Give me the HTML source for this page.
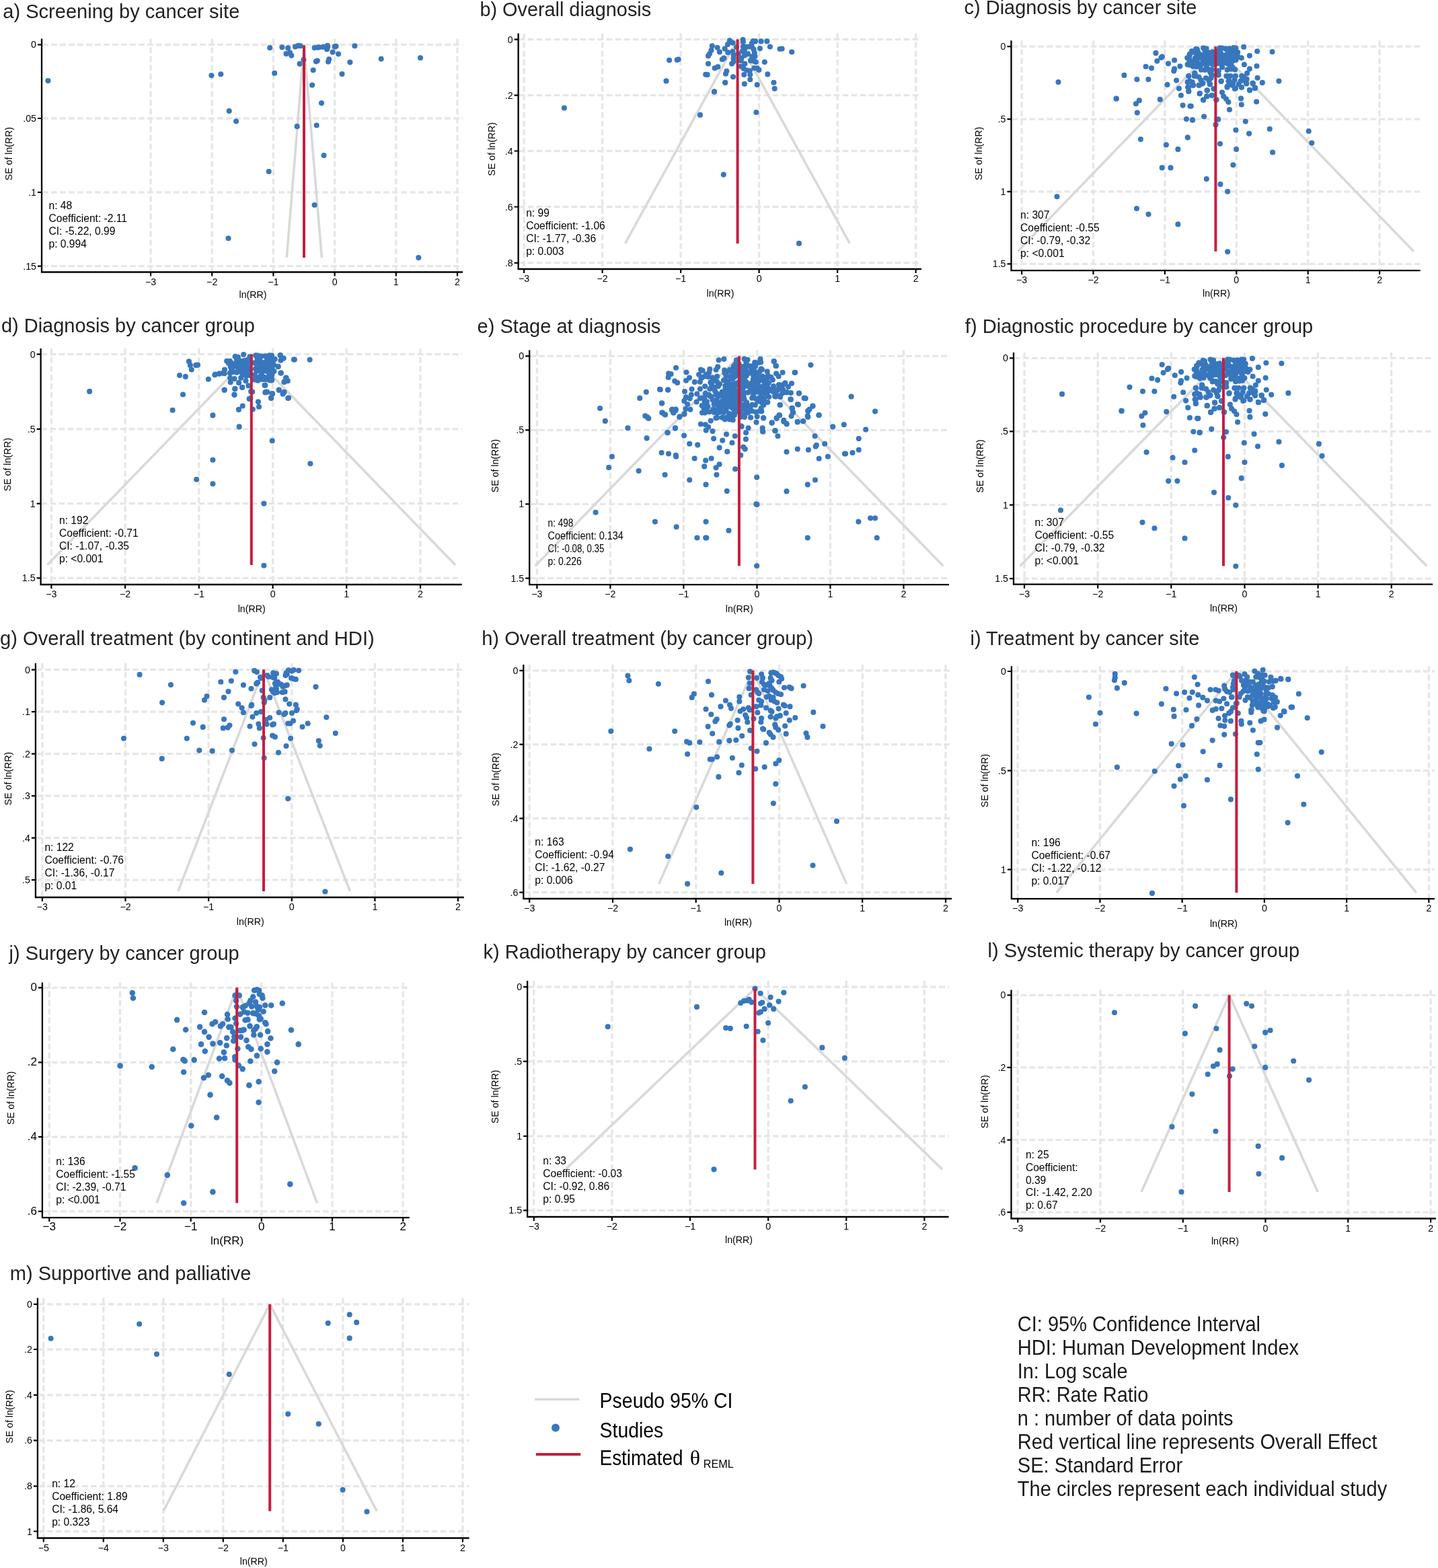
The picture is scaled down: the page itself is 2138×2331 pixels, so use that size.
<!DOCTYPE html>
<html><head><meta charset="utf-8"><style>
html,body{margin:0;padding:0;background:#fff;}
svg{display:block;}
text{font-family:'Liberation Sans', Arial, Helvetica, sans-serif;fill:#000;}
.gr{stroke:#e6e6e6;stroke-width:3.3;stroke-dasharray:8.8 4.2;fill:none;}
.fn{stroke:#d9d9d9;stroke-width:3.6;fill:none;stroke-linejoin:round;}
.rd{stroke:#c41f3f;stroke-width:4;}
.ax{stroke:#000;stroke-width:2.3;fill:none;}
.tk{stroke:#000;stroke-width:2.2;fill:none;}
circle,ellipse{fill:#3877bd;}
.yl{font-size:14.2px;text-anchor:end;}
.xl{font-size:14.2px;text-anchor:middle;}
.at{font-size:14.2px;}
.ti{font-size:28.6px;fill:#222;}
.st{font-size:15.6px;}
.lg{font-size:32px;}
.nt{font-size:30.5px;fill:#1a1a1a;}
</style></head><body>
<svg width="2138" height="2331" viewBox="0 0 2138 2331">
<line x1="63" y1="66.3" x2="688" y2="66.3" class="gr"/>
<line x1="63" y1="176" x2="688" y2="176" class="gr"/>
<line x1="63" y1="285.9" x2="688" y2="285.9" class="gr"/>
<line x1="63" y1="395.6" x2="688" y2="395.6" class="gr"/>
<line x1="224" y1="57.5" x2="224" y2="403.5" class="gr"/>
<line x1="315.2" y1="57.5" x2="315.2" y2="403.5" class="gr"/>
<line x1="406.4" y1="57.5" x2="406.4" y2="403.5" class="gr"/>
<line x1="497.6" y1="57.5" x2="497.6" y2="403.5" class="gr"/>
<line x1="588.8" y1="57.5" x2="588.8" y2="403.5" class="gr"/>
<line x1="680" y1="57.5" x2="680" y2="403.5" class="gr"/>
<polyline points="426.3,383 452,67.5 478.4,383" class="fn"/>
<circle cx="71.4" cy="120" r="4.05"/><circle cx="314.4" cy="112.3" r="4.05"/><circle cx="328.3" cy="110.3" r="4.05"/><circle cx="340.7" cy="165.1" r="4.05"/><circle cx="351.1" cy="180.2" r="4.05"/><circle cx="339.5" cy="354.2" r="4.05"/><circle cx="401.2" cy="71" r="4.05"/><circle cx="419.4" cy="70.2" r="4.05"/><circle cx="428.2" cy="71.4" r="4.05"/><circle cx="425.5" cy="79.9" r="4.05"/><circle cx="431" cy="78.3" r="4.05"/><circle cx="433.3" cy="82.6" r="4.05"/><circle cx="439" cy="69.4" r="4.05"/><circle cx="443.7" cy="67.9" r="4.05"/><circle cx="446.8" cy="68.3" r="4.05"/><circle cx="445.6" cy="94.9" r="4.05"/><circle cx="451.4" cy="88.7" r="4.05"/><circle cx="408.2" cy="108.8" r="4.05"/><circle cx="399.7" cy="255" r="4.05"/><circle cx="441.7" cy="187.9" r="4.05"/><circle cx="467.6" cy="71" r="4.05"/><circle cx="472.6" cy="70.6" r="4.05"/><circle cx="474.5" cy="70.2" r="4.05"/><circle cx="480.3" cy="69.8" r="4.05"/><circle cx="486.9" cy="67.9" r="4.05"/><circle cx="486.1" cy="73.3" r="4.05"/><circle cx="487.3" cy="69.4" r="4.05"/><circle cx="497.7" cy="69.4" r="4.05"/><circle cx="499.6" cy="68.7" r="4.05"/><circle cx="494.6" cy="77.5" r="4.05"/><circle cx="503.1" cy="80.2" r="4.05"/><circle cx="489.2" cy="88" r="4.05"/><circle cx="488" cy="91.8" r="4.05"/><circle cx="469.9" cy="91.4" r="4.05"/><circle cx="471.8" cy="90.3" r="4.05"/><circle cx="465.7" cy="104.2" r="4.05"/><circle cx="464.1" cy="126.5" r="4.05"/><circle cx="478" cy="153.2" r="4.05"/><circle cx="470.7" cy="186.3" r="4.05"/><circle cx="481.5" cy="231.1" r="4.05"/><circle cx="467.6" cy="304.8" r="4.05"/><circle cx="508.5" cy="110" r="4.05"/><circle cx="520.4" cy="92.6" r="4.05"/><circle cx="527.4" cy="68.3" r="4.05"/><circle cx="566.7" cy="87.6" r="4.05"/><circle cx="625" cy="86" r="4.05"/><circle cx="622.3" cy="383.1" r="4.05"/>
<line x1="452" y1="67.5" x2="452" y2="383" class="rd"/>
<path d="M62,57.5V404.5H688" class="ax"/>
<path d="M56,66.3H62M56,176H62M56,285.9H62M56,395.6H62M224,404.5V410.5M315.2,404.5V410.5M406.4,404.5V410.5M497.6,404.5V410.5M588.8,404.5V410.5M680,404.5V410.5" class="tk"/>
<text x="54" y="71.3" class="yl">0</text>
<text x="54" y="181" class="yl">.05</text>
<text x="54" y="290.9" class="yl">.1</text>
<text x="54" y="400.6" class="yl">.15</text>
<text x="224" y="423.5" class="xl">−3</text>
<text x="315.2" y="423.5" class="xl">−2</text>
<text x="406.4" y="423.5" class="xl">−1</text>
<text x="497.6" y="423.5" class="xl">0</text>
<text x="588.8" y="423.5" class="xl">1</text>
<text x="680" y="423.5" class="xl">2</text>
<text x="376" y="443" class="at" text-anchor="middle">ln(RR)</text>
<text transform="translate(17.5,228.5) rotate(-90)" class="at" text-anchor="middle">SE of ln(RR)</text>
<text x="4.3" y="27.3" class="ti" textLength="352" lengthAdjust="spacingAndGlyphs">a) Screening by cancer site</text>
<text x="72.5" y="310.8" class="st">n: 48</text>
<text x="72.5" y="329.8" class="st">Coefficient: -2.11</text>
<text x="72.5" y="348.8" class="st">CI: -5.22, 0.99</text>
<text x="72.5" y="367.8" class="st">p: 0.994</text>
<line x1="771.6" y1="58.6" x2="1370" y2="58.6" class="gr"/>
<line x1="771.6" y1="141.6" x2="1370" y2="141.6" class="gr"/>
<line x1="771.6" y1="224.5" x2="1370" y2="224.5" class="gr"/>
<line x1="771.6" y1="307.5" x2="1370" y2="307.5" class="gr"/>
<line x1="771.6" y1="390.8" x2="1370" y2="390.8" class="gr"/>
<line x1="779.1" y1="49.4" x2="779.1" y2="399" class="gr"/>
<line x1="895.6" y1="49.4" x2="895.6" y2="399" class="gr"/>
<line x1="1012.1" y1="49.4" x2="1012.1" y2="399" class="gr"/>
<line x1="1128.6" y1="49.4" x2="1128.6" y2="399" class="gr"/>
<line x1="1245.1" y1="49.4" x2="1245.1" y2="399" class="gr"/>
<line x1="1361.6" y1="49.4" x2="1361.6" y2="399" class="gr"/>
<polyline points="929.5,361.9 1096.6,58.6 1263.3,361.9" class="fn"/>
<circle cx="838.9" cy="160.5" r="4.05"/><circle cx="990.5" cy="120.4" r="4.05"/><circle cx="995.1" cy="89.5" r="4.05"/><circle cx="1006.7" cy="89.1" r="4.05"/><circle cx="1008.6" cy="88.3" r="4.05"/><circle cx="1041" cy="170.9" r="4.05"/><circle cx="1061.9" cy="136.2" r="4.05"/><circle cx="1075.8" cy="259.6" r="4.05"/><circle cx="1078.1" cy="122.7" r="4.05"/><circle cx="1124.4" cy="167" r="4.05"/><circle cx="1188" cy="361.9" r="4.05"/><circle cx="1177.2" cy="77.2" r="4.05"/><circle cx="1162.6" cy="72.5" r="4.05"/><circle cx="1084.8" cy="60.4" r="4.05"/><circle cx="1086.8" cy="63" r="4.05"/><circle cx="1089.4" cy="63.6" r="4.05"/><circle cx="1104.6" cy="59.1" r="4.05"/><circle cx="1104.9" cy="62.3" r="4.05"/><circle cx="1119.9" cy="61" r="4.05"/><circle cx="1123.1" cy="61.4" r="4.05"/><circle cx="1117.9" cy="64.3" r="4.05"/><circle cx="1131.6" cy="61.4" r="4.05"/><circle cx="1140.3" cy="61.4" r="4.05"/><circle cx="1144.9" cy="69.5" r="4.05"/><circle cx="1129.9" cy="72.1" r="4.05"/><circle cx="1058.8" cy="68.2" r="4.05"/><circle cx="1057.5" cy="74.7" r="4.05"/><circle cx="1053" cy="83.1" r="4.05"/><circle cx="1066.6" cy="70.8" r="4.05"/><circle cx="1069.9" cy="77.3" r="4.05"/><circle cx="1077.7" cy="72.4" r="4.05"/><circle cx="1082.2" cy="77.9" r="4.05"/><circle cx="1089.4" cy="76.6" r="4.05"/><circle cx="1090.6" cy="81.2" r="4.05"/><circle cx="1090.6" cy="86.4" r="4.05"/><circle cx="1073.8" cy="88.3" r="4.05"/><circle cx="1076.4" cy="86.4" r="4.05"/><circle cx="1088.1" cy="94.8" r="4.05"/><circle cx="1090.6" cy="91.6" r="4.05"/><circle cx="1053" cy="94.8" r="4.05"/><circle cx="1062.7" cy="101.3" r="4.05"/><circle cx="1067.3" cy="99.4" r="4.05"/><circle cx="1051.7" cy="111" r="4.05"/><circle cx="1049.2" cy="110.7" r="4.05"/><circle cx="1080.3" cy="105.8" r="4.05"/><circle cx="1079" cy="109.7" r="4.05"/><circle cx="1090" cy="114.3" r="4.05"/><circle cx="1078.3" cy="122.7" r="4.05"/><circle cx="1062.1" cy="136.4" r="4.05"/><circle cx="1104.9" cy="69.5" r="4.05"/><circle cx="1103.6" cy="76" r="4.05"/><circle cx="1106.9" cy="74.7" r="4.05"/><circle cx="1108.8" cy="69.5" r="4.05"/><circle cx="1112.7" cy="69.5" r="4.05"/><circle cx="1117.9" cy="69.5" r="4.05"/><circle cx="1120.5" cy="73.4" r="4.05"/><circle cx="1121.8" cy="78.6" r="4.05"/><circle cx="1122.5" cy="83.8" r="4.05"/><circle cx="1106.9" cy="82.5" r="4.05"/><circle cx="1102.3" cy="86.4" r="4.05"/><circle cx="1101.7" cy="90.3" r="4.05"/><circle cx="1116" cy="90.3" r="4.05"/><circle cx="1121.2" cy="90.9" r="4.05"/><circle cx="1123.8" cy="92.2" r="4.05"/><circle cx="1107.5" cy="94.8" r="4.05"/><circle cx="1136.8" cy="92.2" r="4.05"/><circle cx="1101.7" cy="98.7" r="4.05"/><circle cx="1105.6" cy="101.9" r="4.05"/><circle cx="1110.1" cy="104.5" r="4.05"/><circle cx="1114.7" cy="105.2" r="4.05"/><circle cx="1121.2" cy="101.3" r="4.05"/><circle cx="1125.7" cy="101.3" r="4.05"/><circle cx="1128.3" cy="103.9" r="4.05"/><circle cx="1106.2" cy="111" r="4.05"/><circle cx="1115.3" cy="111" r="4.05"/><circle cx="1115.3" cy="118.2" r="4.05"/><circle cx="1141.3" cy="110.4" r="4.05"/><circle cx="1106.9" cy="124.7" r="4.05"/><circle cx="1125.7" cy="126" r="4.05"/><circle cx="1150.4" cy="122.7" r="4.05"/><circle cx="1151.7" cy="131.8" r="4.05"/><circle cx="1159.5" cy="72.7" r="4.05"/><circle cx="1055" cy="80" r="4.05"/><circle cx="1082" cy="66" r="4.05"/><circle cx="1095" cy="70" r="4.05"/><circle cx="1098" cy="80" r="4.05"/><circle cx="1112" cy="80" r="4.05"/><circle cx="1118" cy="84" r="4.05"/>
<line x1="1096.6" y1="58.6" x2="1096.6" y2="361.9" class="rd"/>
<path d="M770.6,49.4V400H1370" class="ax"/>
<path d="M764.6,58.6H770.6M764.6,141.6H770.6M764.6,224.5H770.6M764.6,307.5H770.6M764.6,390.8H770.6M779.1,400V406M895.6,400V406M1012.1,400V406M1128.6,400V406M1245.1,400V406M1361.6,400V406" class="tk"/>
<text x="762.6" y="63.6" class="yl">0</text>
<text x="762.6" y="146.6" class="yl">.2</text>
<text x="762.6" y="229.5" class="yl">.4</text>
<text x="762.6" y="312.5" class="yl">.6</text>
<text x="762.6" y="395.8" class="yl">.8</text>
<text x="779.1" y="419" class="xl">−3</text>
<text x="895.6" y="419" class="xl">−2</text>
<text x="1012.1" y="419" class="xl">−1</text>
<text x="1128.6" y="419" class="xl">0</text>
<text x="1245.1" y="419" class="xl">1</text>
<text x="1361.6" y="419" class="xl">2</text>
<text x="1071" y="441" class="at" text-anchor="middle">ln(RR)</text>
<text transform="translate(735.5,221.7) rotate(-90)" class="at" text-anchor="middle">SE of ln(RR)</text>
<text x="713.5" y="23.9" class="ti" textLength="254.6" lengthAdjust="spacingAndGlyphs">b) Overall diagnosis</text>
<text x="782.2" y="322" class="st">n: 99</text>
<text x="782.2" y="341" class="st">Coefficient: -1.06</text>
<text x="782.2" y="360" class="st">CI: -1.77, -0.36</text>
<text x="782.2" y="379" class="st">p: 0.003</text>
<line x1="1504.5" y1="69.2" x2="2111.6" y2="69.2" class="gr"/>
<line x1="1504.5" y1="177.2" x2="2111.6" y2="177.2" class="gr"/>
<line x1="1504.5" y1="284.8" x2="2111.6" y2="284.8" class="gr"/>
<line x1="1504.5" y1="392.4" x2="2111.6" y2="392.4" class="gr"/>
<line x1="1519.1" y1="60.2" x2="1519.1" y2="401.1" class="gr"/>
<line x1="1625.5" y1="60.2" x2="1625.5" y2="401.1" class="gr"/>
<line x1="1731.9" y1="60.2" x2="1731.9" y2="401.1" class="gr"/>
<line x1="1838.3" y1="60.2" x2="1838.3" y2="401.1" class="gr"/>
<line x1="1944.7" y1="60.2" x2="1944.7" y2="401.1" class="gr"/>
<line x1="2051.1" y1="60.2" x2="2051.1" y2="401.1" class="gr"/>
<polyline points="1513.2,373.8 1807.4,69.2 2101.9,373.8" class="fn"/>
<circle cx="1718.4" cy="78.9" r="4.05"/><circle cx="1727.9" cy="84.2" r="4.05"/><circle cx="1726.4" cy="85.8" r="4.05"/><circle cx="1720.3" cy="90.7" r="4.05"/><circle cx="1746.1" cy="89.5" r="4.05"/><circle cx="1737" cy="94.5" r="4.05"/><circle cx="1754.4" cy="98.6" r="4.05"/><circle cx="1746.1" cy="102.4" r="4.05"/><circle cx="1745.3" cy="105.5" r="4.05"/><circle cx="1703.6" cy="99" r="4.05"/><circle cx="1712" cy="101.3" r="4.05"/><circle cx="1671.4" cy="111.9" r="4.05"/><circle cx="1690.4" cy="118" r="4.05"/><circle cx="1707.4" cy="118" r="4.05"/><circle cx="1749.1" cy="119.5" r="4.05"/><circle cx="1735.5" cy="125.9" r="4.05"/><circle cx="1752.9" cy="131.6" r="4.05"/><circle cx="1755.9" cy="141.8" r="4.05"/><circle cx="1767.3" cy="135.8" r="4.05"/><circle cx="1766.1" cy="129.7" r="4.05"/><circle cx="1765.8" cy="122.1" r="4.05"/><circle cx="1767.3" cy="113" r="4.05"/><circle cx="1772.6" cy="122.1" r="4.05"/><circle cx="1774.1" cy="126.7" r="4.05"/><circle cx="1776.4" cy="109.2" r="4.05"/><circle cx="1775.6" cy="113" r="4.05"/><circle cx="1768" cy="96.4" r="4.05"/><circle cx="1773.3" cy="98.6" r="4.05"/><circle cx="1768.8" cy="82" r="4.05"/><circle cx="1773.3" cy="77.4" r="4.05"/><circle cx="1768.8" cy="88" r="4.05"/><circle cx="1771.8" cy="91.8" r="4.05"/><circle cx="1659.7" cy="146.7" r="4.05"/><circle cx="1693.8" cy="149.4" r="4.05"/><circle cx="1688.9" cy="154.3" r="4.05"/><circle cx="1724.8" cy="147.9" r="4.05"/><circle cx="1758.6" cy="156.6" r="4.05"/><circle cx="1769.5" cy="157.7" r="4.05"/><circle cx="1690.8" cy="167.6" r="4.05"/><circle cx="1763.9" cy="177" r="4.05"/><circle cx="1773" cy="178.6" r="4.05"/><circle cx="1780" cy="73.6" r="4.05"/><circle cx="1849.2" cy="69.8" r="4.05"/><circle cx="1869.2" cy="76.3" r="4.05"/><circle cx="1891.6" cy="77" r="4.05"/><circle cx="1857.9" cy="82.7" r="4.05"/><circle cx="1845.8" cy="86.1" r="4.05"/><circle cx="1849.9" cy="96" r="4.05"/><circle cx="1868.5" cy="98.3" r="4.05"/><circle cx="1857.9" cy="102.4" r="4.05"/><circle cx="1854.1" cy="108.9" r="4.05"/><circle cx="1869.6" cy="115.7" r="4.05"/><circle cx="1901.4" cy="120.6" r="4.05"/><circle cx="1876.8" cy="122.9" r="4.05"/><circle cx="1862.8" cy="124.4" r="4.05"/><circle cx="1866.2" cy="130.5" r="4.05"/><circle cx="1857.9" cy="133.9" r="4.05"/><circle cx="1853.3" cy="124.4" r="4.05"/><circle cx="1846.5" cy="113" r="4.05"/><circle cx="1849.5" cy="117.6" r="4.05"/><circle cx="1845.8" cy="129.7" r="4.05"/><circle cx="1835.9" cy="132" r="4.05"/><circle cx="1836.7" cy="113" r="4.05"/><circle cx="1824.5" cy="113" r="4.05"/><circle cx="1827.6" cy="120.6" r="4.05"/><circle cx="1824.5" cy="129.7" r="4.05"/><circle cx="1832.9" cy="124.4" r="4.05"/><circle cx="1815.5" cy="121" r="4.05"/><circle cx="1811.7" cy="105.5" r="4.05"/><circle cx="1811.7" cy="111.5" r="4.05"/><circle cx="1817" cy="137.3" r="4.05"/><circle cx="1819.2" cy="143.3" r="4.05"/><circle cx="1823" cy="147.1" r="4.05"/><circle cx="1826.4" cy="151.7" r="4.05"/><circle cx="1845" cy="146.4" r="4.05"/><circle cx="1845.8" cy="155.5" r="4.05"/><circle cx="1868.1" cy="151.3" r="4.05"/><circle cx="1828" cy="163" r="4.05"/><circle cx="1808.6" cy="148.3" r="4.05"/><circle cx="1801.4" cy="141.8" r="4.05"/><circle cx="1794.2" cy="143.3" r="4.05"/><circle cx="1788.9" cy="148.6" r="4.05"/><circle cx="1783.6" cy="139.2" r="4.05"/><circle cx="1795" cy="134.6" r="4.05"/><circle cx="1804.8" cy="132.3" r="4.05"/><circle cx="1770.8" cy="157.7" r="4.05"/><circle cx="1790.1" cy="173.3" r="4.05"/><circle cx="1773" cy="178.2" r="4.05"/><circle cx="1811.3" cy="177.4" r="4.05"/><circle cx="1807.5" cy="185.4" r="4.05"/><circle cx="1851.8" cy="180.5" r="4.05"/><circle cx="1837.4" cy="193.3" r="4.05"/><circle cx="1857.1" cy="198.6" r="4.05"/><circle cx="1887.8" cy="191.8" r="4.05"/><circle cx="1782.9" cy="126.7" r="4.05"/><circle cx="1787.4" cy="124.4" r="4.05"/><circle cx="1773.8" cy="126.7" r="4.05"/><circle cx="1798.8" cy="125.2" r="4.05"/><circle cx="1573.5" cy="122" r="4.05"/><circle cx="1571.5" cy="292.2" r="4.05"/><circle cx="1659.7" cy="146.5" r="4.05"/><circle cx="1695.9" cy="207.1" r="4.05"/><circle cx="1690" cy="310" r="4.05"/><circle cx="1707.5" cy="318.6" r="4.05"/><circle cx="1733.9" cy="215.2" r="4.05"/><circle cx="1727.7" cy="249.4" r="4.05"/><circle cx="1740.5" cy="249.4" r="4.05"/><circle cx="1751.4" cy="221.9" r="4.05"/><circle cx="1751.4" cy="333.4" r="4.05"/><circle cx="1765.8" cy="204.4" r="4.05"/><circle cx="1793.8" cy="266.1" r="4.05"/><circle cx="1814" cy="213.7" r="4.05"/><circle cx="1814.4" cy="273.9" r="4.05"/><circle cx="1825.2" cy="284.8" r="4.05"/><circle cx="1825.2" cy="374.2" r="4.05"/><circle cx="1833.4" cy="245.2" r="4.05"/><circle cx="1838.1" cy="221.9" r="4.05"/><circle cx="1892.1" cy="226.5" r="4.05"/><circle cx="1945.7" cy="195" r="4.05"/><circle cx="1950.3" cy="212.5" r="4.05"/><circle cx="1776.4" cy="108.5" r="4.05"/><circle cx="1777.9" cy="113" r="4.05"/><circle cx="1767.3" cy="113" r="4.05"/><circle cx="1765.8" cy="122.1" r="4.05"/><circle cx="1768.8" cy="120.6" r="4.05"/><circle cx="1773.3" cy="125.2" r="4.05"/><circle cx="1767.3" cy="129.7" r="4.05"/><circle cx="1767.3" cy="135.8" r="4.05"/><circle cx="1782.4" cy="114.5" r="4.05"/><circle cx="1785.5" cy="119.1" r="4.05"/><circle cx="1788.5" cy="123.6" r="4.05"/><circle cx="1782.4" cy="126.7" r="4.05"/><circle cx="1793" cy="116.1" r="4.05"/><circle cx="1797.6" cy="120.6" r="4.05"/><circle cx="1799.1" cy="125.2" r="4.05"/><circle cx="1791.5" cy="103.9" r="4.05"/><circle cx="1799.1" cy="107" r="4.05"/><circle cx="1802.1" cy="111.5" r="4.05"/><circle cx="1800.6" cy="116.1" r="4.05"/><circle cx="1811.2" cy="105.5" r="4.05"/><circle cx="1811.2" cy="110" r="4.05"/><circle cx="1815.8" cy="120.6" r="4.05"/><circle cx="1804.4" cy="132" r="4.05"/><circle cx="1794.5" cy="134.2" r="4.05"/><circle cx="1783.9" cy="138.8" r="4.05"/><circle cx="1802.1" cy="141.8" r="4.05"/><circle cx="1794.5" cy="143.3" r="4.05"/><circle cx="1789.2" cy="148.6" r="4.05"/><circle cx="1808.2" cy="148.6" r="4.05"/><circle cx="1823.3" cy="113" r="4.05"/><circle cx="1829.4" cy="113" r="4.05"/><circle cx="1837" cy="113" r="4.05"/><circle cx="1846.1" cy="113" r="4.05"/><circle cx="1826.4" cy="120.6" r="4.05"/><circle cx="1835.5" cy="119.1" r="4.05"/><circle cx="1844.5" cy="120.6" r="4.05"/><circle cx="1852.1" cy="122.1" r="4.05"/><circle cx="1862.7" cy="123.6" r="4.05"/><circle cx="1824.8" cy="128.2" r="4.05"/><circle cx="1832.4" cy="126.7" r="4.05"/><circle cx="1837" cy="131.2" r="4.05"/><circle cx="1846.1" cy="129.7" r="4.05"/><circle cx="1858.2" cy="134.2" r="4.05"/><circle cx="1865.8" cy="131.2" r="4.05"/><circle cx="1853.6" cy="117.6" r="4.05"/><circle cx="1849.1" cy="114.5" r="4.05"/><circle cx="1827.9" cy="125.2" r="4.05"/><circle cx="1841.5" cy="125.2" r="4.05"/><circle cx="1778.2" cy="72.9" r="4.05"/><circle cx="1789.1" cy="71.4" r="4.05"/><circle cx="1793.5" cy="72.3" r="4.05"/><circle cx="1772" cy="76.1" r="4.05"/><circle cx="1776.7" cy="78.1" r="4.05"/><circle cx="1781.4" cy="78.1" r="4.05"/><circle cx="1791.5" cy="76.2" r="4.05"/><circle cx="1796.7" cy="77.8" r="4.05"/><circle cx="1802.6" cy="77.3" r="4.05"/><circle cx="1768.7" cy="80.5" r="4.05"/><circle cx="1779.4" cy="81.3" r="4.05"/><circle cx="1784.4" cy="81.4" r="4.05"/><circle cx="1790.1" cy="82" r="4.05"/><circle cx="1794.8" cy="81.6" r="4.05"/><circle cx="1800.4" cy="81" r="4.05"/><circle cx="1804.1" cy="81.3" r="4.05"/><circle cx="1765.2" cy="86" r="4.05"/><circle cx="1777" cy="86.2" r="4.05"/><circle cx="1781.2" cy="86.5" r="4.05"/><circle cx="1787" cy="85.9" r="4.05"/><circle cx="1793.1" cy="86" r="4.05"/><circle cx="1796.1" cy="86.5" r="4.05"/><circle cx="1803.6" cy="86.8" r="4.05"/><circle cx="1768.3" cy="90.9" r="4.05"/><circle cx="1778.2" cy="89.6" r="4.05"/><circle cx="1788.5" cy="89.9" r="4.05"/><circle cx="1795.5" cy="89.5" r="4.05"/><circle cx="1799.9" cy="91.4" r="4.05"/><circle cx="1805.9" cy="90" r="4.05"/><circle cx="1765.7" cy="95.9" r="4.05"/><circle cx="1770.4" cy="94.2" r="4.05"/><circle cx="1775.8" cy="95" r="4.05"/><circle cx="1781" cy="93.8" r="4.05"/><circle cx="1786.5" cy="95.2" r="4.05"/><circle cx="1792.5" cy="95.1" r="4.05"/><circle cx="1797.6" cy="93.9" r="4.05"/><circle cx="1803.1" cy="95.9" r="4.05"/><circle cx="1778.7" cy="99.3" r="4.05"/><circle cx="1784.5" cy="98.5" r="4.05"/><circle cx="1793.8" cy="99.1" r="4.05"/><circle cx="1785.8" cy="103.7" r="4.05"/><circle cx="1797.5" cy="103.2" r="4.05"/><circle cx="1802" cy="103.7" r="4.05"/><circle cx="1800.6" cy="109.7" r="4.05"/><circle cx="1813.7" cy="71.2" r="4.05"/><circle cx="1816.8" cy="71.5" r="4.05"/><circle cx="1822.3" cy="72.4" r="4.05"/><circle cx="1828.1" cy="72.1" r="4.05"/><circle cx="1834.2" cy="71.1" r="4.05"/><circle cx="1837.4" cy="71.5" r="4.05"/><circle cx="1811" cy="76.3" r="4.05"/><circle cx="1814.6" cy="77.8" r="4.05"/><circle cx="1825.3" cy="77" r="4.05"/><circle cx="1831.3" cy="76.6" r="4.05"/><circle cx="1837" cy="76.8" r="4.05"/><circle cx="1840.2" cy="77.7" r="4.05"/><circle cx="1811.9" cy="82.2" r="4.05"/><circle cx="1818.3" cy="82" r="4.05"/><circle cx="1822.7" cy="82" r="4.05"/><circle cx="1828.8" cy="80.1" r="4.05"/><circle cx="1833.9" cy="82.2" r="4.05"/><circle cx="1838.6" cy="80.4" r="4.05"/><circle cx="1810.1" cy="85.6" r="4.05"/><circle cx="1820.4" cy="86.1" r="4.05"/><circle cx="1825" cy="84.4" r="4.05"/><circle cx="1830.2" cy="85.4" r="4.05"/><circle cx="1836.8" cy="86.6" r="4.05"/><circle cx="1841" cy="84.8" r="4.05"/><circle cx="1813.7" cy="89.4" r="4.05"/><circle cx="1817.3" cy="88.9" r="4.05"/><circle cx="1822.6" cy="89.3" r="4.05"/><circle cx="1827.6" cy="89.9" r="4.05"/><circle cx="1833.2" cy="90.3" r="4.05"/><circle cx="1837.6" cy="89.1" r="4.05"/><circle cx="1810.1" cy="94.3" r="4.05"/><circle cx="1815.2" cy="95.1" r="4.05"/><circle cx="1819.4" cy="93.5" r="4.05"/><circle cx="1825.3" cy="94.8" r="4.05"/><circle cx="1830.4" cy="95.7" r="4.05"/><circle cx="1817.1" cy="100" r="4.05"/><circle cx="1828.8" cy="100.3" r="4.05"/><circle cx="1832.6" cy="100.3" r="4.05"/><circle cx="1824.6" cy="103.9" r="4.05"/><circle cx="1830.7" cy="102.8" r="4.05"/><circle cx="1836.2" cy="103.5" r="4.05"/>
<line x1="1807.4" y1="69.2" x2="1807.4" y2="373.8" class="rd"/>
<path d="M1503.5,60.2V402.1H2111.6" class="ax"/>
<path d="M1497.5,69.2H1503.5M1497.5,177.2H1503.5M1497.5,284.8H1503.5M1497.5,392.4H1503.5M1519.1,402.1V408.1M1625.5,402.1V408.1M1731.9,402.1V408.1M1838.3,402.1V408.1M1944.7,402.1V408.1M2051.1,402.1V408.1" class="tk"/>
<text x="1495.5" y="74.2" class="yl">0</text>
<text x="1495.5" y="182.2" class="yl">.5</text>
<text x="1495.5" y="289.8" class="yl">1</text>
<text x="1495.5" y="397.4" class="yl">1.5</text>
<text x="1519.1" y="421.1" class="xl">−3</text>
<text x="1625.5" y="421.1" class="xl">−2</text>
<text x="1731.9" y="421.1" class="xl">−1</text>
<text x="1838.3" y="421.1" class="xl">0</text>
<text x="1944.7" y="421.1" class="xl">1</text>
<text x="2051.1" y="421.1" class="xl">2</text>
<text x="1808.5" y="441" class="at" text-anchor="middle">ln(RR)</text>
<text transform="translate(1460,228.3) rotate(-90)" class="at" text-anchor="middle">SE of ln(RR)</text>
<text x="1433.6" y="21.4" class="ti" textLength="345.8" lengthAdjust="spacingAndGlyphs">c) Diagnosis by cancer site</text>
<text x="1517.1" y="325" class="st">n: 307</text>
<text x="1517.1" y="344" class="st">Coefficient: -0.55</text>
<text x="1517.1" y="363" class="st">CI: -0.79, -0.32</text>
<text x="1517.1" y="382" class="st">p: <0.001</text>
<line x1="61.6" y1="526.7" x2="686.7" y2="526.7" class="gr"/>
<line x1="61.6" y1="637.9" x2="686.7" y2="637.9" class="gr"/>
<line x1="61.6" y1="748.6" x2="686.7" y2="748.6" class="gr"/>
<line x1="61.6" y1="859.3" x2="686.7" y2="859.3" class="gr"/>
<line x1="76.4" y1="517.9" x2="76.4" y2="868" class="gr"/>
<line x1="186.1" y1="517.9" x2="186.1" y2="868" class="gr"/>
<line x1="295.8" y1="517.9" x2="295.8" y2="868" class="gr"/>
<line x1="405.6" y1="517.9" x2="405.6" y2="868" class="gr"/>
<line x1="515.3" y1="517.9" x2="515.3" y2="868" class="gr"/>
<line x1="625" y1="517.9" x2="625" y2="868" class="gr"/>
<polyline points="70.2,840 373.8,526.7 677.1,840" class="fn"/>
<circle cx="133.1" cy="581.9" r="4.05"/><circle cx="256.6" cy="609.7" r="4.05"/><circle cx="272" cy="586.5" r="4.05"/><circle cx="267" cy="558" r="4.05"/><circle cx="275.8" cy="559.9" r="4.05"/><circle cx="280.9" cy="537.2" r="4.05"/><circle cx="282.8" cy="542.9" r="4.05"/><circle cx="284.7" cy="549.5" r="4.05"/><circle cx="291.3" cy="542.9" r="4.05"/><circle cx="294" cy="542.6" r="4.05"/><circle cx="309.8" cy="563.8" r="4.05"/><circle cx="316.4" cy="617.4" r="4.05"/><circle cx="316.4" cy="683.8" r="4.05"/><circle cx="292.1" cy="712.7" r="4.05"/><circle cx="316.4" cy="719.3" r="4.05"/><circle cx="355.7" cy="634.4" r="4.05"/><circle cx="354.9" cy="608.9" r="4.05"/><circle cx="360.7" cy="603.5" r="4.05"/><circle cx="375.8" cy="608.5" r="4.05"/><circle cx="385" cy="604.7" r="4.05"/><circle cx="383.9" cy="597.3" r="4.05"/><circle cx="372.3" cy="592.3" r="4.05"/><circle cx="404.7" cy="655.2" r="4.05"/><circle cx="392.4" cy="748.6" r="4.05"/><circle cx="392.4" cy="840.8" r="4.05"/><circle cx="461.4" cy="689.2" r="4.05"/><circle cx="460.6" cy="534.8" r="4.05"/><circle cx="437.9" cy="534.5" r="4.05"/><circle cx="416.7" cy="528.3" r="4.05"/><circle cx="421.7" cy="532.5" r="4.05"/><circle cx="413.6" cy="544.9" r="4.05"/><circle cx="417.8" cy="554.5" r="4.05"/><circle cx="425.5" cy="561.5" r="4.05"/><circle cx="427.1" cy="566.1" r="4.05"/><circle cx="422.5" cy="568" r="4.05"/><circle cx="414.7" cy="579.6" r="4.05"/><circle cx="422.5" cy="582.7" r="4.05"/><circle cx="420.5" cy="585.8" r="4.05"/><circle cx="428.2" cy="592" r="4.05"/><circle cx="405.1" cy="585.4" r="4.05"/><circle cx="403.2" cy="591.9" r="4.05"/><circle cx="394.3" cy="583.5" r="4.05"/><circle cx="397.4" cy="582.7" r="4.05"/><circle cx="393.5" cy="572.7" r="4.05"/><circle cx="403.2" cy="565.3" r="4.05"/><circle cx="333.7" cy="579.6" r="4.05"/><circle cx="348.4" cy="586.5" r="4.05"/><circle cx="349.2" cy="578.1" r="4.05"/><circle cx="360" cy="575.7" r="4.05"/><circle cx="319.4" cy="557.2" r="4.05"/><circle cx="326" cy="555.7" r="4.05"/><circle cx="331.8" cy="554.5" r="4.05"/><circle cx="320" cy="556.6" r="4.05"/><circle cx="326.5" cy="555.3" r="4.05"/><circle cx="333.6" cy="555.3" r="4.05"/><circle cx="342.1" cy="561.8" r="4.05"/><circle cx="342.7" cy="568.2" r="4.05"/><circle cx="348.6" cy="563.1" r="4.05"/><circle cx="355.1" cy="568.9" r="4.05"/><circle cx="358.3" cy="561.8" r="4.05"/><circle cx="360.3" cy="576" r="4.05"/><circle cx="365.5" cy="566.3" r="4.05"/><circle cx="369.4" cy="573.4" r="4.05"/><circle cx="373.2" cy="581.9" r="4.05"/><circle cx="375.2" cy="582.5" r="4.05"/><circle cx="333.6" cy="579.9" r="4.05"/><circle cx="349.5" cy="578" r="4.05"/><circle cx="348.6" cy="587.1" r="4.05"/><circle cx="370.6" cy="592.9" r="4.05"/><circle cx="394.4" cy="572.8" r="4.05"/><circle cx="395.3" cy="582.5" r="4.05"/><circle cx="404.4" cy="585.1" r="4.05"/><circle cx="403.1" cy="591.6" r="4.05"/><circle cx="414.8" cy="579.9" r="4.05"/><circle cx="421.9" cy="583.8" r="4.05"/><circle cx="429.1" cy="591.6" r="4.05"/><circle cx="417.4" cy="554.6" r="4.05"/><circle cx="425.2" cy="561.8" r="4.05"/><circle cx="422.6" cy="567.6" r="4.05"/><circle cx="427.8" cy="566.3" r="4.05"/><circle cx="413.5" cy="544.9" r="4.05"/><circle cx="416.8" cy="528" r="4.05"/><circle cx="420" cy="533.2" r="4.05"/><circle cx="417.4" cy="535.8" r="4.05"/><circle cx="436.9" cy="534.5" r="4.05"/><circle cx="403.8" cy="565.6" r="4.05"/><circle cx="362.1" cy="527.1" r="4.05"/><circle cx="349.6" cy="530.1" r="4.05"/><circle cx="354" cy="531" r="4.05"/><circle cx="371.5" cy="530.3" r="4.05"/><circle cx="337.2" cy="536.8" r="4.05"/><circle cx="341.9" cy="536.8" r="4.05"/><circle cx="352" cy="534.9" r="4.05"/><circle cx="357.2" cy="536.5" r="4.05"/><circle cx="363.1" cy="536" r="4.05"/><circle cx="368.2" cy="534.7" r="4.05"/><circle cx="339.9" cy="540" r="4.05"/><circle cx="344.9" cy="540.1" r="4.05"/><circle cx="350.6" cy="540.7" r="4.05"/><circle cx="355.3" cy="540.3" r="4.05"/><circle cx="360.9" cy="539.7" r="4.05"/><circle cx="364.6" cy="540" r="4.05"/><circle cx="369.9" cy="540.2" r="4.05"/><circle cx="342.7" cy="544.9" r="4.05"/><circle cx="346.9" cy="545.2" r="4.05"/><circle cx="352.7" cy="544.6" r="4.05"/><circle cx="358.8" cy="544.7" r="4.05"/><circle cx="361.8" cy="545.2" r="4.05"/><circle cx="369.3" cy="545.5" r="4.05"/><circle cx="334" cy="549.6" r="4.05"/><circle cx="343.9" cy="548.3" r="4.05"/><circle cx="354.2" cy="548.6" r="4.05"/><circle cx="361.2" cy="548.2" r="4.05"/><circle cx="365.6" cy="550.1" r="4.05"/><circle cx="371.6" cy="548.7" r="4.05"/><circle cx="341.8" cy="554.6" r="4.05"/><circle cx="346.5" cy="552.9" r="4.05"/><circle cx="351.9" cy="553.7" r="4.05"/><circle cx="357.1" cy="552.5" r="4.05"/><circle cx="362.6" cy="553.9" r="4.05"/><circle cx="368.6" cy="553.8" r="4.05"/><circle cx="360.7" cy="557.2" r="4.05"/><circle cx="366.2" cy="559.1" r="4.05"/><circle cx="370.4" cy="558" r="4.05"/><circle cx="380.2" cy="528.3" r="4.05"/><circle cx="383.3" cy="528.6" r="4.05"/><circle cx="388.8" cy="529.5" r="4.05"/><circle cx="394.6" cy="529.2" r="4.05"/><circle cx="400.7" cy="528.2" r="4.05"/><circle cx="403.9" cy="528.6" r="4.05"/><circle cx="382.7" cy="533.4" r="4.05"/><circle cx="386.3" cy="534.9" r="4.05"/><circle cx="397" cy="534.1" r="4.05"/><circle cx="403" cy="533.7" r="4.05"/><circle cx="408.7" cy="533.9" r="4.05"/><circle cx="378.1" cy="539.3" r="4.05"/><circle cx="383.6" cy="539.3" r="4.05"/><circle cx="390" cy="539.1" r="4.05"/><circle cx="394.4" cy="539.1" r="4.05"/><circle cx="400.5" cy="537.2" r="4.05"/><circle cx="405.6" cy="539.3" r="4.05"/><circle cx="381.7" cy="542" r="4.05"/><circle cx="387" cy="542.7" r="4.05"/><circle cx="397.3" cy="543.2" r="4.05"/><circle cx="401.9" cy="541.5" r="4.05"/><circle cx="407.1" cy="542.5" r="4.05"/><circle cx="379.9" cy="548.2" r="4.05"/><circle cx="384.1" cy="546.4" r="4.05"/><circle cx="390.6" cy="546.5" r="4.05"/><circle cx="394.2" cy="546" r="4.05"/><circle cx="399.5" cy="546.4" r="4.05"/><circle cx="404.5" cy="547" r="4.05"/><circle cx="381.5" cy="551.9" r="4.05"/><circle cx="385.9" cy="550.7" r="4.05"/><circle cx="392.2" cy="551.4" r="4.05"/><circle cx="397.3" cy="552.2" r="4.05"/><circle cx="401.5" cy="550.6" r="4.05"/><circle cx="407.4" cy="551.9" r="4.05"/><circle cx="378.7" cy="557.3" r="4.05"/><circle cx="388.8" cy="557.1" r="4.05"/><circle cx="400.5" cy="557.4" r="4.05"/><circle cx="404.3" cy="557.4" r="4.05"/><circle cx="380.7" cy="561" r="4.05"/><circle cx="386.8" cy="559.9" r="4.05"/><circle cx="392.3" cy="560.6" r="4.05"/><circle cx="397.2" cy="561.3" r="4.05"/><circle cx="402.4" cy="560.5" r="4.05"/><circle cx="378.4" cy="564.5" r="4.05"/><circle cx="383.4" cy="565.8" r="4.05"/><circle cx="389.8" cy="564.1" r="4.05"/><circle cx="394.5" cy="564.3" r="4.05"/><circle cx="400.5" cy="565.2" r="4.05"/><circle cx="404.4" cy="564.6" r="4.05"/>
<line x1="373.8" y1="526.7" x2="373.8" y2="840" class="rd"/>
<path d="M60.6,517.9V869H686.7" class="ax"/>
<path d="M54.6,526.7H60.6M54.6,637.9H60.6M54.6,748.6H60.6M54.6,859.3H60.6M76.4,869V875M186.1,869V875M295.8,869V875M405.6,869V875M515.3,869V875M625,869V875" class="tk"/>
<text x="52.6" y="531.7" class="yl">0</text>
<text x="52.6" y="642.9" class="yl">.5</text>
<text x="52.6" y="753.6" class="yl">1</text>
<text x="52.6" y="864.3" class="yl">1.5</text>
<text x="76.4" y="888" class="xl">−3</text>
<text x="186.1" y="888" class="xl">−2</text>
<text x="295.8" y="888" class="xl">−1</text>
<text x="405.6" y="888" class="xl">0</text>
<text x="515.3" y="888" class="xl">1</text>
<text x="625" y="888" class="xl">2</text>
<text x="374.2" y="909.5" class="at" text-anchor="middle">ln(RR)</text>
<text transform="translate(16,690.5) rotate(-90)" class="at" text-anchor="middle">SE of ln(RR)</text>
<text x="1.9" y="494" class="ti" textLength="377" lengthAdjust="spacingAndGlyphs">d) Diagnosis by cancer group</text>
<text x="88" y="778.8" class="st">n: 192</text>
<text x="88" y="797.8" class="st">Coefficient: -0.71</text>
<text x="88" y="816.8" class="st">CI: -1.07, -0.35</text>
<text x="88" y="835.8" class="st">p: <0.001</text>
<line x1="788.2" y1="529.4" x2="1411" y2="529.4" class="gr"/>
<line x1="788.2" y1="639.4" x2="1411" y2="639.4" class="gr"/>
<line x1="788.2" y1="749.4" x2="1411" y2="749.4" class="gr"/>
<line x1="788.2" y1="859.7" x2="1411" y2="859.7" class="gr"/>
<line x1="798.4" y1="520.6" x2="798.4" y2="868.2" class="gr"/>
<line x1="907.4" y1="520.6" x2="907.4" y2="868.2" class="gr"/>
<line x1="1016.4" y1="520.6" x2="1016.4" y2="868.2" class="gr"/>
<line x1="1125.5" y1="520.6" x2="1125.5" y2="868.2" class="gr"/>
<line x1="1234.5" y1="520.6" x2="1234.5" y2="868.2" class="gr"/>
<line x1="1343.5" y1="520.6" x2="1343.5" y2="868.2" class="gr"/>
<polyline points="795.7,841.2 1098.9,529.4 1402.2,841.2" class="fn"/>
<circle cx="892.1" cy="607" r="4.05"/><circle cx="899.8" cy="625.9" r="4.05"/><circle cx="933.4" cy="636.3" r="4.05"/><circle cx="909.9" cy="678.8" r="4.05"/><circle cx="905.2" cy="695" r="4.05"/><circle cx="949.6" cy="700" r="4.05"/><circle cx="885.6" cy="761.7" r="4.05"/><circle cx="951.2" cy="591.9" r="4.05"/><circle cx="960.8" cy="582.7" r="4.05"/><circle cx="961.6" cy="651.4" r="4.05"/><circle cx="959.3" cy="618.2" r="4.05"/><circle cx="964.3" cy="622" r="4.05"/><circle cx="962.3" cy="620.1" r="4.05"/><circle cx="973.9" cy="775.6" r="4.05"/><circle cx="980.9" cy="578.8" r="4.05"/><circle cx="984" cy="599.3" r="4.05"/><circle cx="984.3" cy="613.5" r="4.05"/><circle cx="988.6" cy="616.2" r="4.05"/><circle cx="983.6" cy="673" r="4.05"/><circle cx="988.6" cy="705.8" r="4.05"/><circle cx="992.4" cy="643.3" r="4.05"/><circle cx="993.2" cy="579.6" r="4.05"/><circle cx="994" cy="674.5" r="4.05"/><circle cx="999.4" cy="608.5" r="4.05"/><circle cx="1004.8" cy="608.5" r="4.05"/><circle cx="1001.7" cy="613.5" r="4.05"/><circle cx="1004" cy="636.7" r="4.05"/><circle cx="1004.8" cy="676.8" r="4.05"/><circle cx="1005.2" cy="678.7" r="4.05"/><circle cx="1005.6" cy="783.3" r="4.05"/><circle cx="1010.6" cy="619.3" r="4.05"/><circle cx="1017.1" cy="647.5" r="4.05"/><circle cx="1017.5" cy="615.1" r="4.05"/><circle cx="1025.2" cy="659.8" r="4.05"/><circle cx="1025.2" cy="713.5" r="4.05"/><circle cx="1032.6" cy="681.5" r="4.05"/><circle cx="1036.4" cy="799.5" r="4.05"/><circle cx="1049.2" cy="799.5" r="4.05"/><circle cx="1050.3" cy="799.5" r="4.05"/><circle cx="1037.2" cy="661.4" r="4.05"/><circle cx="1049.5" cy="720.4" r="4.05"/><circle cx="1049.5" cy="775.6" r="4.05"/><circle cx="1047.2" cy="693.4" r="4.05"/><circle cx="1049.2" cy="684.5" r="4.05"/><circle cx="1057.6" cy="681.5" r="4.05"/><circle cx="1061.1" cy="652.1" r="4.05"/><circle cx="1065.4" cy="705.8" r="4.05"/><circle cx="1064.6" cy="695.3" r="4.05"/><circle cx="1069.6" cy="690.3" r="4.05"/><circle cx="1069.6" cy="665.6" r="4.05"/><circle cx="1074.2" cy="654.8" r="4.05"/><circle cx="1080.8" cy="730.1" r="4.05"/><circle cx="1083.5" cy="788.7" r="4.05"/><circle cx="1080" cy="645.6" r="4.05"/><circle cx="1081.2" cy="671.4" r="4.05"/><circle cx="1088.5" cy="658.3" r="4.05"/><circle cx="1092.7" cy="648.3" r="4.05"/><circle cx="1093.1" cy="697.3" r="4.05"/><circle cx="1101.2" cy="676.8" r="4.05"/><circle cx="1105.1" cy="664.5" r="4.05"/><circle cx="1107.8" cy="667.6" r="4.05"/><circle cx="1108.9" cy="652.9" r="4.05"/><circle cx="1125.2" cy="709.6" r="4.05"/><circle cx="1124.4" cy="749.4" r="4.05"/><circle cx="1125.5" cy="750.1" r="4.05"/><circle cx="1125.2" cy="841.2" r="4.05"/><circle cx="1134" cy="641.3" r="4.05"/><circle cx="1135.2" cy="621.3" r="4.05"/><circle cx="1152.2" cy="640.2" r="4.05"/><circle cx="1156.4" cy="648.3" r="4.05"/><circle cx="1169.5" cy="671.8" r="4.05"/><circle cx="1169.5" cy="730.4" r="4.05"/><circle cx="1185.7" cy="667.6" r="4.05"/><circle cx="1185.7" cy="627.4" r="4.05"/><circle cx="1194.2" cy="626.3" r="4.05"/><circle cx="1200.8" cy="618.2" r="4.05"/><circle cx="1201.9" cy="668.7" r="4.05"/><circle cx="1200.8" cy="720.4" r="4.05"/><circle cx="1200.8" cy="799.5" r="4.05"/><circle cx="1212" cy="713.5" r="4.05"/><circle cx="1211.6" cy="648.3" r="4.05"/><circle cx="1213.9" cy="661.8" r="4.05"/><circle cx="1212.7" cy="663.7" r="4.05"/><circle cx="1217.7" cy="681.8" r="4.05"/><circle cx="1217.7" cy="617" r="4.05"/><circle cx="1226.2" cy="659.8" r="4.05"/><circle cx="1230.9" cy="678.8" r="4.05"/><circle cx="1238.2" cy="634.4" r="4.05"/><circle cx="1254.8" cy="631.3" r="4.05"/><circle cx="1255.9" cy="674.5" r="4.05"/><circle cx="1257.1" cy="674.5" r="4.05"/><circle cx="1267.5" cy="673" r="4.05"/><circle cx="1265.6" cy="589.6" r="4.05"/><circle cx="1276.8" cy="652.1" r="4.05"/><circle cx="1276.8" cy="668.7" r="4.05"/><circle cx="1287.2" cy="638.6" r="4.05"/><circle cx="1301.1" cy="611.6" r="4.05"/><circle cx="1276.4" cy="775.6" r="4.05"/><circle cx="1294.1" cy="770.2" r="4.05"/><circle cx="1301.1" cy="770.2" r="4.05"/><circle cx="1303.8" cy="799.5" r="4.05"/><circle cx="1205.4" cy="542.6" r="4.05"/><circle cx="1181.5" cy="553.7" r="4.05"/><circle cx="1150.6" cy="537.2" r="4.05"/><circle cx="1153.3" cy="543.7" r="4.05"/><circle cx="1197.7" cy="592.3" r="4.05"/><circle cx="1208.5" cy="603.5" r="4.05"/><circle cx="1203.5" cy="608.5" r="4.05"/><circle cx="1201.5" cy="611.2" r="4.05"/><circle cx="1196.1" cy="591.9" r="4.05"/><circle cx="1175.3" cy="593.5" r="4.05"/><circle cx="1186.9" cy="601.6" r="4.05"/><circle cx="1188" cy="584.6" r="4.05"/><circle cx="1177.6" cy="606.6" r="4.05"/><circle cx="1179.2" cy="613.2" r="4.05"/><circle cx="1165.3" cy="626.7" r="4.05"/><circle cx="1169.5" cy="629.8" r="4.05"/><circle cx="1159.1" cy="617.4" r="4.05"/><circle cx="1154.5" cy="621.3" r="4.05"/><circle cx="1147.5" cy="628.6" r="4.05"/><circle cx="1159.9" cy="602" r="4.05"/><circle cx="1068.6" cy="535.2" r="4.05"/><circle cx="1076.4" cy="533.8" r="4.05"/><circle cx="1067.2" cy="545.4" r="4.05"/><circle cx="1005" cy="546.8" r="4.05"/><circle cx="994.1" cy="555.2" r="4.05"/><circle cx="997.6" cy="556" r="4.05"/><circle cx="993.7" cy="560.9" r="4.05"/><circle cx="1020.5" cy="553.5" r="4.05"/><circle cx="1041.9" cy="549.6" r="4.05"/><circle cx="1044.7" cy="551" r="4.05"/><circle cx="1055.3" cy="548.9" r="4.05"/><circle cx="1039.1" cy="556.7" r="4.05"/><circle cx="1050.3" cy="556.7" r="4.05"/><circle cx="1047.5" cy="559.5" r="4.05"/><circle cx="1042.6" cy="562.3" r="4.05"/><circle cx="1003.2" cy="566.5" r="4.05"/><circle cx="1007.1" cy="569" r="4.05"/><circle cx="1025" cy="561.6" r="4.05"/><circle cx="1020.1" cy="565.8" r="4.05"/><circle cx="1032.8" cy="567.9" r="4.05"/><circle cx="1077.1" cy="550.3" r="4.05"/><circle cx="1083.4" cy="551.7" r="4.05"/><circle cx="1091.9" cy="548.2" r="4.05"/><circle cx="1079.9" cy="557.4" r="4.05"/><circle cx="1089.7" cy="558.8" r="4.05"/><circle cx="1078.5" cy="565.8" r="4.05"/><circle cx="1059.5" cy="562.3" r="4.05"/><circle cx="1065.8" cy="567.2" r="4.05"/><circle cx="1070" cy="570.7" r="4.05"/><circle cx="1067.9" cy="574.2" r="4.05"/><circle cx="1089" cy="571.4" r="4.05"/><circle cx="1048.2" cy="574.2" r="4.05"/><circle cx="1060.9" cy="575.7" r="4.05"/><circle cx="1063" cy="581.3" r="4.05"/><circle cx="1078.5" cy="577.8" r="4.05"/><circle cx="1073.6" cy="582.7" r="4.05"/><circle cx="1085.5" cy="581.3" r="4.05"/><circle cx="1092.6" cy="579.9" r="4.05"/><circle cx="981.8" cy="579.2" r="4.05"/><circle cx="993" cy="579.5" r="4.05"/><circle cx="1018" cy="582" r="4.05"/><circle cx="1028.5" cy="578.5" r="4.05"/><circle cx="1036.3" cy="585.5" r="4.05"/><circle cx="1027.8" cy="586.9" r="4.05"/><circle cx="1020.1" cy="590.4" r="4.05"/><circle cx="1025.7" cy="592.5" r="4.05"/><circle cx="1017.3" cy="596.1" r="4.05"/><circle cx="1022.2" cy="601" r="4.05"/><circle cx="1035.6" cy="597.5" r="4.05"/><circle cx="984.2" cy="599.6" r="4.05"/><circle cx="1048.9" cy="584.8" r="4.05"/><circle cx="1053.9" cy="586.9" r="4.05"/><circle cx="1044.7" cy="591.8" r="4.05"/><circle cx="1047.5" cy="596.8" r="4.05"/><circle cx="1057.4" cy="589.7" r="4.05"/><circle cx="1064.4" cy="586.9" r="4.05"/><circle cx="1071.5" cy="588.3" r="4.05"/><circle cx="1077.1" cy="589.7" r="4.05"/><circle cx="1085.5" cy="591.1" r="4.05"/><circle cx="1088.3" cy="596.8" r="4.05"/><circle cx="1061.6" cy="601" r="4.05"/><circle cx="1067.2" cy="598.9" r="4.05"/><circle cx="1074.3" cy="598.2" r="4.05"/><circle cx="1083.4" cy="598.2" r="4.05"/><circle cx="1052.5" cy="604.5" r="4.05"/><circle cx="1085.5" cy="604.5" r="4.05"/><circle cx="1089.7" cy="605.9" r="4.05"/><circle cx="1068.6" cy="607.3" r="4.05"/><circle cx="1073.6" cy="610.8" r="4.05"/><circle cx="1054.6" cy="612.2" r="4.05"/><circle cx="1049.6" cy="608.7" r="4.05"/><circle cx="1044" cy="613.6" r="4.05"/><circle cx="1066.5" cy="613.6" r="4.05"/><circle cx="1084.8" cy="615.7" r="4.05"/><circle cx="1092.6" cy="613.6" r="4.05"/><circle cx="1064.4" cy="621.4" r="4.05"/><circle cx="1056.7" cy="625.6" r="4.05"/><circle cx="1077.8" cy="623.5" r="4.05"/><circle cx="1084.8" cy="623.5" r="4.05"/><circle cx="1089.7" cy="624.2" r="4.05"/><circle cx="1019.4" cy="608" r="4.05"/><circle cx="1026.4" cy="608.7" r="4.05"/><circle cx="999" cy="609.4" r="4.05"/><circle cx="1004.6" cy="610.1" r="4.05"/><circle cx="1001.1" cy="613.6" r="4.05"/><circle cx="984.9" cy="613.6" r="4.05"/><circle cx="989.1" cy="616.5" r="4.05"/><circle cx="1017.3" cy="615.7" r="4.05"/><circle cx="1010.2" cy="620" r="4.05"/><circle cx="1041.9" cy="630.5" r="4.05"/><circle cx="1048.9" cy="631.2" r="4.05"/><circle cx="1053.2" cy="634.7" r="4.05"/><circle cx="1049.6" cy="639.7" r="4.05"/><circle cx="1059.5" cy="641.1" r="4.05"/><circle cx="1003.9" cy="636.2" r="4.05"/><circle cx="992.7" cy="643.2" r="4.05"/><circle cx="1101.7" cy="633.3" r="4.05"/><circle cx="1101" cy="620" r="4.05"/><circle cx="1103.1" cy="616.5" r="4.05"/><circle cx="1150.9" cy="537" r="4.05"/><circle cx="1154.1" cy="544" r="4.05"/><circle cx="1133" cy="549.6" r="4.05"/><circle cx="1140.7" cy="552.4" r="4.05"/><circle cx="1142.1" cy="558.8" r="4.05"/><circle cx="1154.1" cy="555.2" r="4.05"/><circle cx="1163.6" cy="553.8" r="4.05"/><circle cx="1157.6" cy="559.5" r="4.05"/><circle cx="1182.2" cy="553.8" r="4.05"/><circle cx="1148.8" cy="564.7" r="4.05"/><circle cx="1167.5" cy="569.3" r="4.05"/><circle cx="1177" cy="570" r="4.05"/><circle cx="1175.9" cy="584.1" r="4.05"/><circle cx="1187.9" cy="584.8" r="4.05"/><circle cx="1195.6" cy="591.8" r="4.05"/><circle cx="1175.9" cy="593.9" r="4.05"/><circle cx="1185.8" cy="601" r="4.05"/><circle cx="1159.7" cy="602" r="4.05"/><circle cx="1178" cy="607.3" r="4.05"/><circle cx="1178.7" cy="612.9" r="4.05"/><circle cx="1176.6" cy="618.6" r="4.05"/><circle cx="1201.2" cy="610.8" r="4.05"/><circle cx="1208.3" cy="603.8" r="4.05"/><circle cx="1217.4" cy="617.2" r="4.05"/><circle cx="1201.2" cy="620" r="4.05"/><circle cx="1194.2" cy="626.3" r="4.05"/><circle cx="1185.7" cy="627" r="4.05"/><circle cx="1165.3" cy="624.9" r="4.05"/><circle cx="1169.6" cy="630.5" r="4.05"/><circle cx="1158.3" cy="617.2" r="4.05"/><circle cx="1154.8" cy="622.1" r="4.05"/><circle cx="1147.8" cy="628.4" r="4.05"/><circle cx="1135.1" cy="621.4" r="4.05"/><circle cx="1125.6" cy="619.3" r="4.05"/><circle cx="1124.5" cy="627.7" r="4.05"/><circle cx="1116.1" cy="620.7" r="4.05"/><circle cx="1107" cy="620" r="4.05"/><circle cx="1102.7" cy="634" r="4.05"/><circle cx="1112.6" cy="636.2" r="4.05"/><circle cx="1109.1" cy="643.2" r="4.05"/><circle cx="1133.7" cy="636.2" r="4.05"/><circle cx="1134.4" cy="641.8" r="4.05"/><circle cx="1152.7" cy="640.4" r="4.05"/><circle cx="1132.3" cy="611.5" r="4.05"/><circle cx="1150" cy="574" r="4.05"/><circle cx="1158" cy="572" r="4.05"/><circle cx="1166" cy="571" r="4.05"/><circle cx="1172" cy="575" r="4.05"/><circle cx="1149" cy="582" r="4.05"/><circle cx="1156" cy="580" r="4.05"/><circle cx="1163" cy="578" r="4.05"/><circle cx="1170" cy="583" r="4.05"/><circle cx="1152" cy="589" r="4.05"/><circle cx="1160" cy="588" r="4.05"/><circle cx="1095" cy="535.3" r="4.05"/><circle cx="1106.8" cy="533.6" r="4.05"/><circle cx="1111.5" cy="534.7" r="4.05"/><circle cx="1130.5" cy="533.8" r="4.05"/><circle cx="1093.6" cy="541" r="4.05"/><circle cx="1098.5" cy="541" r="4.05"/><circle cx="1109.4" cy="538.7" r="4.05"/><circle cx="1122.1" cy="538.8" r="4.05"/><circle cx="1127.2" cy="539.3" r="4.05"/><circle cx="1131.2" cy="538.5" r="4.05"/><circle cx="1090.9" cy="544.3" r="4.05"/><circle cx="1096.2" cy="544.4" r="4.05"/><circle cx="1102.4" cy="545.1" r="4.05"/><circle cx="1107.4" cy="544.6" r="4.05"/><circle cx="1113.4" cy="544" r="4.05"/><circle cx="1117.3" cy="544.3" r="4.05"/><circle cx="1123" cy="544.5" r="4.05"/><circle cx="1088.3" cy="549.6" r="4.05"/><circle cx="1092.7" cy="549.9" r="4.05"/><circle cx="1099" cy="549.3" r="4.05"/><circle cx="1105.6" cy="549.3" r="4.05"/><circle cx="1108.8" cy="550" r="4.05"/><circle cx="1117" cy="550.3" r="4.05"/><circle cx="1120.9" cy="549.9" r="4.05"/><circle cx="1131.5" cy="548.3" r="4.05"/><circle cx="1089.4" cy="553.5" r="4.05"/><circle cx="1097" cy="553.1" r="4.05"/><circle cx="1101.7" cy="555.3" r="4.05"/><circle cx="1108.2" cy="553.6" r="4.05"/><circle cx="1112.4" cy="555.3" r="4.05"/><circle cx="1117.4" cy="553.3" r="4.05"/><circle cx="1123.3" cy="554.2" r="4.05"/><circle cx="1128.9" cy="552.9" r="4.05"/><circle cx="1087.2" cy="559.3" r="4.05"/><circle cx="1093.7" cy="559.1" r="4.05"/><circle cx="1099.3" cy="557.8" r="4.05"/><circle cx="1105.2" cy="560.1" r="4.05"/><circle cx="1109.7" cy="558.8" r="4.05"/><circle cx="1120" cy="557.9" r="4.05"/><circle cx="1125.9" cy="558.6" r="4.05"/><circle cx="1089.3" cy="563.6" r="4.05"/><circle cx="1101.9" cy="563" r="4.05"/><circle cx="1106.8" cy="563.6" r="4.05"/><circle cx="1119.8" cy="563.9" r="4.05"/><circle cx="1122.8" cy="562.8" r="4.05"/><circle cx="1128.9" cy="564.9" r="4.05"/><circle cx="1133.9" cy="565.2" r="4.05"/><circle cx="1139.8" cy="564.1" r="4.05"/><circle cx="1094.5" cy="569.8" r="4.05"/><circle cx="1098.1" cy="568.4" r="4.05"/><circle cx="1105.2" cy="568.9" r="4.05"/><circle cx="1109.5" cy="568" r="4.05"/><circle cx="1117" cy="569.8" r="4.05"/><circle cx="1122.1" cy="569.5" r="4.05"/><circle cx="1126.8" cy="568.4" r="4.05"/><circle cx="1142.9" cy="569.3" r="4.05"/><circle cx="1084.7" cy="574.9" r="4.05"/><circle cx="1091.7" cy="573.3" r="4.05"/><circle cx="1095.2" cy="572.8" r="4.05"/><circle cx="1101.9" cy="574.8" r="4.05"/><circle cx="1107.1" cy="574.1" r="4.05"/><circle cx="1111.6" cy="574.1" r="4.05"/><circle cx="1119.2" cy="574.3" r="4.05"/><circle cx="1123.1" cy="574.5" r="4.05"/><circle cx="1130.4" cy="575" r="4.05"/><circle cx="1134.9" cy="574.9" r="4.05"/><circle cx="1139.9" cy="572.6" r="4.05"/><circle cx="1088.7" cy="579.4" r="4.05"/><circle cx="1100.1" cy="578.9" r="4.05"/><circle cx="1104.5" cy="577.5" r="4.05"/><circle cx="1116" cy="578.6" r="4.05"/><circle cx="1121" cy="579.5" r="4.05"/><circle cx="1126" cy="577.8" r="4.05"/><circle cx="1131.7" cy="578.7" r="4.05"/><circle cx="1137.8" cy="577.5" r="4.05"/><circle cx="1143.2" cy="578.4" r="4.05"/><circle cx="1085.9" cy="583.1" r="4.05"/><circle cx="1090.4" cy="583.4" r="4.05"/><circle cx="1094.7" cy="583.2" r="4.05"/><circle cx="1100.2" cy="584.2" r="4.05"/><circle cx="1107.1" cy="584" r="4.05"/><circle cx="1112.3" cy="583.4" r="4.05"/><circle cx="1119.2" cy="582.2" r="4.05"/><circle cx="1123.3" cy="582.7" r="4.05"/><circle cx="1129.6" cy="583.5" r="4.05"/><circle cx="1136.4" cy="583.2" r="4.05"/><circle cx="1140.8" cy="583.4" r="4.05"/><circle cx="1087.5" cy="588.3" r="4.05"/><circle cx="1094.4" cy="588.8" r="4.05"/><circle cx="1100" cy="587.5" r="4.05"/><circle cx="1105.6" cy="589.1" r="4.05"/><circle cx="1120" cy="587.5" r="4.05"/><circle cx="1133.2" cy="589.3" r="4.05"/><circle cx="1138.6" cy="588.6" r="4.05"/><circle cx="1086.1" cy="592.3" r="4.05"/><circle cx="1090.1" cy="593" r="4.05"/><circle cx="1096.9" cy="592.1" r="4.05"/><circle cx="1101.6" cy="592.6" r="4.05"/><circle cx="1106.7" cy="593.7" r="4.05"/><circle cx="1118.2" cy="591.7" r="4.05"/><circle cx="1124.3" cy="593.1" r="4.05"/><circle cx="1136" cy="594.4" r="4.05"/><circle cx="1086.3" cy="598.7" r="4.05"/><circle cx="1092.2" cy="597.7" r="4.05"/><circle cx="1099.7" cy="597.2" r="4.05"/><circle cx="1110.2" cy="598.5" r="4.05"/><circle cx="1126.6" cy="596.7" r="4.05"/><circle cx="1132.8" cy="598.7" r="4.05"/><circle cx="1083.6" cy="603.8" r="4.05"/><circle cx="1089.9" cy="602.9" r="4.05"/><circle cx="1095.4" cy="601.7" r="4.05"/><circle cx="1100.9" cy="601.7" r="4.05"/><circle cx="1105.9" cy="601.9" r="4.05"/><circle cx="1112.3" cy="603.5" r="4.05"/><circle cx="1118.4" cy="601.8" r="4.05"/><circle cx="1122.7" cy="602" r="4.05"/><circle cx="1135.3" cy="601.9" r="4.05"/><circle cx="1088.8" cy="606.5" r="4.05"/><circle cx="1093" cy="607.6" r="4.05"/><circle cx="1098.5" cy="607.6" r="4.05"/><circle cx="1105.8" cy="607.2" r="4.05"/><circle cx="1110.6" cy="608" r="4.05"/><circle cx="1115.2" cy="606.3" r="4.05"/><circle cx="1131.7" cy="606.7" r="4.05"/><circle cx="1091.4" cy="612.9" r="4.05"/><circle cx="1095.3" cy="611.9" r="4.05"/><circle cx="1100.6" cy="612.3" r="4.05"/><circle cx="1108.5" cy="613.8" r="4.05"/><circle cx="1112.1" cy="613.7" r="4.05"/><circle cx="1118" cy="611" r="4.05"/><circle cx="1123.9" cy="612.5" r="4.05"/><circle cx="1129.6" cy="611.1" r="4.05"/><circle cx="1092.1" cy="617" r="4.05"/><circle cx="1064.6" cy="549.8" r="4.05"/><circle cx="1085.3" cy="549.6" r="4.05"/><circle cx="1092.9" cy="549.1" r="4.05"/><circle cx="1054.2" cy="554" r="4.05"/><circle cx="1077.5" cy="554.5" r="4.05"/><circle cx="1043.9" cy="561.3" r="4.05"/><circle cx="1052.9" cy="560.3" r="4.05"/><circle cx="1059.1" cy="561.4" r="4.05"/><circle cx="1066.2" cy="559.6" r="4.05"/><circle cx="1079.5" cy="559.8" r="4.05"/><circle cx="1086.6" cy="561.7" r="4.05"/><circle cx="1092.3" cy="560.3" r="4.05"/><circle cx="1040.8" cy="567.7" r="4.05"/><circle cx="1056.4" cy="568.4" r="4.05"/><circle cx="1062.5" cy="565.7" r="4.05"/><circle cx="1076.1" cy="565.2" r="4.05"/><circle cx="1082.9" cy="567.5" r="4.05"/><circle cx="1058.3" cy="572.4" r="4.05"/><circle cx="1067.1" cy="574" r="4.05"/><circle cx="1078.3" cy="573.2" r="4.05"/><circle cx="1085.2" cy="573.6" r="4.05"/><circle cx="1091.3" cy="573.6" r="4.05"/><circle cx="1040.9" cy="578.3" r="4.05"/><circle cx="1055.5" cy="578.2" r="4.05"/><circle cx="1061.7" cy="577.1" r="4.05"/><circle cx="1082.4" cy="579.6" r="4.05"/><circle cx="1090.4" cy="580.2" r="4.05"/><circle cx="1066.2" cy="585.3" r="4.05"/><circle cx="1074.4" cy="582.6" r="4.05"/><circle cx="1078.5" cy="585.8" r="4.05"/><circle cx="1094" cy="586.2" r="4.05"/><circle cx="1040.9" cy="592" r="4.05"/><circle cx="1047.4" cy="590.7" r="4.05"/><circle cx="1055.6" cy="589.1" r="4.05"/><circle cx="1069.1" cy="589" r="4.05"/><circle cx="1076.9" cy="591.1" r="4.05"/><circle cx="1082.5" cy="589.8" r="4.05"/><circle cx="1050.9" cy="597" r="4.05"/><circle cx="1059.5" cy="594.5" r="4.05"/><circle cx="1065.7" cy="594.7" r="4.05"/><circle cx="1073.6" cy="596.2" r="4.05"/><circle cx="1078.4" cy="595.2" r="4.05"/><circle cx="1087.2" cy="596.7" r="4.05"/><circle cx="1043.6" cy="603" r="4.05"/><circle cx="1050.6" cy="601.1" r="4.05"/><circle cx="1064.2" cy="601.6" r="4.05"/><circle cx="1070.6" cy="602.1" r="4.05"/><circle cx="1077.7" cy="603.1" r="4.05"/><circle cx="1088.6" cy="601.6" r="4.05"/><circle cx="1046.7" cy="607.3" r="4.05"/><circle cx="1060.3" cy="608.6" r="4.05"/><circle cx="1066.7" cy="609.1" r="4.05"/><circle cx="1072.2" cy="607.7" r="4.05"/><circle cx="1079.6" cy="609.2" r="4.05"/><circle cx="1048.1" cy="613.6" r="4.05"/><circle cx="1061.7" cy="613.1" r="4.05"/><circle cx="1069.3" cy="613.1" r="4.05"/><circle cx="1075.8" cy="613.4" r="4.05"/><circle cx="1083.9" cy="614.7" r="4.05"/><circle cx="1066.2" cy="620.9" r="4.05"/><circle cx="1073.7" cy="620.8" r="4.05"/><circle cx="1080.1" cy="620.8" r="4.05"/><circle cx="1087.8" cy="620.8" r="4.05"/><circle cx="1133.5" cy="559.4" r="4.05"/><circle cx="1139.2" cy="560.7" r="4.05"/><circle cx="1146.5" cy="560.9" r="4.05"/><circle cx="1128.8" cy="566.3" r="4.05"/><circle cx="1137.3" cy="567.5" r="4.05"/><circle cx="1135.5" cy="573.1" r="4.05"/><circle cx="1140.6" cy="573.7" r="4.05"/><circle cx="1162.8" cy="572.5" r="4.05"/><circle cx="1143.4" cy="580.2" r="4.05"/><circle cx="1149.9" cy="578.4" r="4.05"/><circle cx="1156.8" cy="578.6" r="4.05"/><circle cx="1164.1" cy="579.2" r="4.05"/><circle cx="1135.4" cy="583.8" r="4.05"/><circle cx="1153.3" cy="583.4" r="4.05"/><circle cx="1163.5" cy="584.6" r="4.05"/><circle cx="1169.5" cy="583.4" r="4.05"/><circle cx="1129.3" cy="591.4" r="4.05"/><circle cx="1135.9" cy="591.2" r="4.05"/><circle cx="1143.2" cy="590.1" r="4.05"/><circle cx="1153.3" cy="589.6" r="4.05"/><circle cx="1160.1" cy="590" r="4.05"/><circle cx="1132.4" cy="596.6" r="4.05"/><circle cx="1141.3" cy="598" r="4.05"/>
<line x1="1098.9" y1="529.4" x2="1098.9" y2="841.2" class="rd"/>
<path d="M787.2,520.6V869.2H1411" class="ax"/>
<path d="M781.2,529.4H787.2M781.2,639.4H787.2M781.2,749.4H787.2M781.2,859.7H787.2M798.4,869.2V875.2M907.4,869.2V875.2M1016.4,869.2V875.2M1125.5,869.2V875.2M1234.5,869.2V875.2M1343.5,869.2V875.2" class="tk"/>
<text x="779.2" y="534.4" class="yl">0</text>
<text x="779.2" y="644.4" class="yl">.5</text>
<text x="779.2" y="754.4" class="yl">1</text>
<text x="779.2" y="864.7" class="yl">1.5</text>
<text x="798.4" y="888.2" class="xl">−3</text>
<text x="907.4" y="888.2" class="xl">−2</text>
<text x="1016.4" y="888.2" class="xl">−1</text>
<text x="1125.5" y="888.2" class="xl">0</text>
<text x="1234.5" y="888.2" class="xl">1</text>
<text x="1343.5" y="888.2" class="xl">2</text>
<text x="1099.3" y="909.5" class="at" text-anchor="middle">ln(RR)</text>
<text transform="translate(741,692.5) rotate(-90)" class="at" text-anchor="middle">SE of ln(RR)</text>
<text x="709.6" y="494.7" class="ti" textLength="272.8" lengthAdjust="spacingAndGlyphs">e) Stage at diagnosis</text>
<text x="814.6" y="782.6" class="st" textLength="37.8" lengthAdjust="spacingAndGlyphs">n: 498</text>
<text x="814.6" y="801.6" class="st" textLength="112.3" lengthAdjust="spacingAndGlyphs">Coefficient: 0.134</text>
<text x="814.6" y="820.6" class="st" textLength="83.7" lengthAdjust="spacingAndGlyphs">CI: -0.08, 0.35</text>
<text x="814.6" y="839.6" class="st" textLength="50.2" lengthAdjust="spacingAndGlyphs">p: 0.226</text>
<line x1="1508" y1="532.3" x2="2130.2" y2="532.3" class="gr"/>
<line x1="1508" y1="641.4" x2="2130.2" y2="641.4" class="gr"/>
<line x1="1508" y1="750.6" x2="2130.2" y2="750.6" class="gr"/>
<line x1="1508" y1="860.2" x2="2130.2" y2="860.2" class="gr"/>
<line x1="1523" y1="524.1" x2="1523" y2="867.7" class="gr"/>
<line x1="1632.2" y1="524.1" x2="1632.2" y2="867.7" class="gr"/>
<line x1="1741.3" y1="524.1" x2="1741.3" y2="867.7" class="gr"/>
<line x1="1850.5" y1="524.1" x2="1850.5" y2="867.7" class="gr"/>
<line x1="1959.6" y1="524.1" x2="1959.6" y2="867.7" class="gr"/>
<line x1="2068.8" y1="524.1" x2="2068.8" y2="867.7" class="gr"/>
<polyline points="1516.4,841.5 1819,532.3 2121.3,841.5" class="fn"/>
<circle cx="1727.7" cy="542.1" r="4.05"/><circle cx="1737.4" cy="547.5" r="4.05"/><circle cx="1735.9" cy="549.1" r="4.05"/><circle cx="1729.6" cy="554.1" r="4.05"/><circle cx="1756.1" cy="552.9" r="4.05"/><circle cx="1746.8" cy="558" r="4.05"/><circle cx="1764.6" cy="562.1" r="4.05"/><circle cx="1756.1" cy="566" r="4.05"/><circle cx="1755.3" cy="569.1" r="4.05"/><circle cx="1712.5" cy="562.5" r="4.05"/><circle cx="1721.1" cy="564.9" r="4.05"/><circle cx="1679.5" cy="575.6" r="4.05"/><circle cx="1699" cy="581.8" r="4.05"/><circle cx="1716.4" cy="581.8" r="4.05"/><circle cx="1759.2" cy="583.3" r="4.05"/><circle cx="1745.2" cy="589.8" r="4.05"/><circle cx="1763.1" cy="595.6" r="4.05"/><circle cx="1766.2" cy="606" r="4.05"/><circle cx="1777.9" cy="599.9" r="4.05"/><circle cx="1776.6" cy="593.7" r="4.05"/><circle cx="1776.3" cy="586" r="4.05"/><circle cx="1777.9" cy="576.7" r="4.05"/><circle cx="1783.3" cy="586" r="4.05"/><circle cx="1784.8" cy="590.6" r="4.05"/><circle cx="1787.2" cy="572.9" r="4.05"/><circle cx="1786.4" cy="576.7" r="4.05"/><circle cx="1778.6" cy="559.9" r="4.05"/><circle cx="1784" cy="562.1" r="4.05"/><circle cx="1779.4" cy="545.3" r="4.05"/><circle cx="1784" cy="540.6" r="4.05"/><circle cx="1779.4" cy="551.4" r="4.05"/><circle cx="1782.5" cy="555.2" r="4.05"/><circle cx="1667.5" cy="610.9" r="4.05"/><circle cx="1702.4" cy="613.7" r="4.05"/><circle cx="1697.4" cy="618.6" r="4.05"/><circle cx="1734.2" cy="612.1" r="4.05"/><circle cx="1768.9" cy="621" r="4.05"/><circle cx="1780.1" cy="622.1" r="4.05"/><circle cx="1699.4" cy="632.1" r="4.05"/><circle cx="1774.4" cy="641.7" r="4.05"/><circle cx="1783.7" cy="643.3" r="4.05"/><circle cx="1790.9" cy="536.8" r="4.05"/><circle cx="1861.9" cy="532.9" r="4.05"/><circle cx="1882.4" cy="539.5" r="4.05"/><circle cx="1905.4" cy="540.2" r="4.05"/><circle cx="1870.8" cy="546" r="4.05"/><circle cx="1858.4" cy="549.4" r="4.05"/><circle cx="1862.6" cy="559.5" r="4.05"/><circle cx="1881.7" cy="561.8" r="4.05"/><circle cx="1870.8" cy="566" r="4.05"/><circle cx="1866.9" cy="572.6" r="4.05"/><circle cx="1882.8" cy="579.5" r="4.05"/><circle cx="1915.4" cy="584.4" r="4.05"/><circle cx="1890.2" cy="586.8" r="4.05"/><circle cx="1875.8" cy="588.3" r="4.05"/><circle cx="1879.3" cy="594.5" r="4.05"/><circle cx="1870.8" cy="597.9" r="4.05"/><circle cx="1866.1" cy="588.3" r="4.05"/><circle cx="1859.1" cy="576.7" r="4.05"/><circle cx="1862.2" cy="581.4" r="4.05"/><circle cx="1858.4" cy="593.7" r="4.05"/><circle cx="1848.2" cy="596" r="4.05"/><circle cx="1849.1" cy="576.7" r="4.05"/><circle cx="1836.5" cy="576.7" r="4.05"/><circle cx="1839.7" cy="584.4" r="4.05"/><circle cx="1836.5" cy="593.7" r="4.05"/><circle cx="1845.2" cy="588.3" r="4.05"/><circle cx="1827.3" cy="584.9" r="4.05"/><circle cx="1823.4" cy="569.1" r="4.05"/><circle cx="1823.4" cy="575.2" r="4.05"/><circle cx="1828.9" cy="601.4" r="4.05"/><circle cx="1831.1" cy="607.5" r="4.05"/><circle cx="1835" cy="611.3" r="4.05"/><circle cx="1838.5" cy="616" r="4.05"/><circle cx="1857.6" cy="610.6" r="4.05"/><circle cx="1858.4" cy="619.9" r="4.05"/><circle cx="1881.3" cy="615.6" r="4.05"/><circle cx="1840.1" cy="627.5" r="4.05"/><circle cx="1820.2" cy="612.5" r="4.05"/><circle cx="1812.8" cy="606" r="4.05"/><circle cx="1805.5" cy="607.5" r="4.05"/><circle cx="1800" cy="612.9" r="4.05"/><circle cx="1794.6" cy="603.3" r="4.05"/><circle cx="1806.3" cy="598.7" r="4.05"/><circle cx="1816.3" cy="596.3" r="4.05"/><circle cx="1781.4" cy="622.1" r="4.05"/><circle cx="1801.3" cy="637.9" r="4.05"/><circle cx="1783.7" cy="642.9" r="4.05"/><circle cx="1823" cy="642.1" r="4.05"/><circle cx="1819.1" cy="650.2" r="4.05"/><circle cx="1864.6" cy="645.2" r="4.05"/><circle cx="1849.8" cy="658.2" r="4.05"/><circle cx="1870" cy="663.6" r="4.05"/><circle cx="1901.5" cy="656.7" r="4.05"/><circle cx="1793.9" cy="590.6" r="4.05"/><circle cx="1798.5" cy="588.3" r="4.05"/><circle cx="1784.5" cy="590.6" r="4.05"/><circle cx="1810.2" cy="589.1" r="4.05"/><circle cx="1579" cy="585.9" r="4.05"/><circle cx="1577" cy="758.5" r="4.05"/><circle cx="1667.5" cy="610.7" r="4.05"/><circle cx="1704.6" cy="672.2" r="4.05"/><circle cx="1698.5" cy="776.6" r="4.05"/><circle cx="1716.5" cy="785.3" r="4.05"/><circle cx="1743.6" cy="680.4" r="4.05"/><circle cx="1737.2" cy="715.1" r="4.05"/><circle cx="1750.4" cy="715.1" r="4.05"/><circle cx="1761.5" cy="687.2" r="4.05"/><circle cx="1761.5" cy="800.3" r="4.05"/><circle cx="1776.3" cy="669.5" r="4.05"/><circle cx="1805" cy="732.1" r="4.05"/><circle cx="1825.8" cy="678.9" r="4.05"/><circle cx="1826.2" cy="740" r="4.05"/><circle cx="1837.3" cy="751" r="4.05"/><circle cx="1837.3" cy="841.7" r="4.05"/><circle cx="1845.7" cy="710.9" r="4.05"/><circle cx="1850.5" cy="687.2" r="4.05"/><circle cx="1905.9" cy="691.9" r="4.05"/><circle cx="1960.9" cy="659.9" r="4.05"/><circle cx="1965.6" cy="677.7" r="4.05"/><circle cx="1787.2" cy="572.2" r="4.05"/><circle cx="1788.7" cy="576.7" r="4.05"/><circle cx="1777.9" cy="576.7" r="4.05"/><circle cx="1776.3" cy="586" r="4.05"/><circle cx="1779.4" cy="584.4" r="4.05"/><circle cx="1784" cy="589.1" r="4.05"/><circle cx="1777.9" cy="593.7" r="4.05"/><circle cx="1777.9" cy="599.9" r="4.05"/><circle cx="1793.3" cy="578.3" r="4.05"/><circle cx="1796.5" cy="582.9" r="4.05"/><circle cx="1799.6" cy="587.5" r="4.05"/><circle cx="1793.3" cy="590.6" r="4.05"/><circle cx="1804.2" cy="579.9" r="4.05"/><circle cx="1808.9" cy="584.4" r="4.05"/><circle cx="1810.5" cy="589.1" r="4.05"/><circle cx="1802.7" cy="567.5" r="4.05"/><circle cx="1810.5" cy="570.6" r="4.05"/><circle cx="1813.6" cy="575.2" r="4.05"/><circle cx="1812" cy="579.9" r="4.05"/><circle cx="1822.9" cy="569.1" r="4.05"/><circle cx="1822.9" cy="573.7" r="4.05"/><circle cx="1827.6" cy="584.4" r="4.05"/><circle cx="1815.9" cy="596" r="4.05"/><circle cx="1805.8" cy="598.2" r="4.05"/><circle cx="1794.9" cy="602.9" r="4.05"/><circle cx="1813.6" cy="606" r="4.05"/><circle cx="1805.8" cy="607.5" r="4.05"/><circle cx="1800.3" cy="612.9" r="4.05"/><circle cx="1819.8" cy="612.9" r="4.05"/><circle cx="1835.3" cy="576.7" r="4.05"/><circle cx="1841.6" cy="576.7" r="4.05"/><circle cx="1849.4" cy="576.7" r="4.05"/><circle cx="1858.7" cy="576.7" r="4.05"/><circle cx="1838.5" cy="584.4" r="4.05"/><circle cx="1847.8" cy="582.9" r="4.05"/><circle cx="1857.1" cy="584.4" r="4.05"/><circle cx="1864.9" cy="586" r="4.05"/><circle cx="1875.7" cy="587.5" r="4.05"/><circle cx="1836.9" cy="592.2" r="4.05"/><circle cx="1844.7" cy="590.6" r="4.05"/><circle cx="1849.4" cy="595.2" r="4.05"/><circle cx="1858.7" cy="593.7" r="4.05"/><circle cx="1871.1" cy="598.2" r="4.05"/><circle cx="1878.9" cy="595.2" r="4.05"/><circle cx="1866.4" cy="581.4" r="4.05"/><circle cx="1861.8" cy="578.3" r="4.05"/><circle cx="1840" cy="589.1" r="4.05"/><circle cx="1854" cy="589.1" r="4.05"/><circle cx="1788.7" cy="535.9" r="4.05"/><circle cx="1799.6" cy="534.5" r="4.05"/><circle cx="1804" cy="535.4" r="4.05"/><circle cx="1782.5" cy="539.2" r="4.05"/><circle cx="1787.2" cy="541.2" r="4.05"/><circle cx="1791.9" cy="541.2" r="4.05"/><circle cx="1802" cy="539.2" r="4.05"/><circle cx="1807.3" cy="540.8" r="4.05"/><circle cx="1813.1" cy="540.4" r="4.05"/><circle cx="1779.2" cy="543.5" r="4.05"/><circle cx="1790" cy="544.4" r="4.05"/><circle cx="1794.9" cy="544.5" r="4.05"/><circle cx="1800.6" cy="545.1" r="4.05"/><circle cx="1805.3" cy="544.7" r="4.05"/><circle cx="1810.9" cy="544.1" r="4.05"/><circle cx="1814.6" cy="544.4" r="4.05"/><circle cx="1775.7" cy="549.1" r="4.05"/><circle cx="1787.6" cy="549.3" r="4.05"/><circle cx="1791.7" cy="549.6" r="4.05"/><circle cx="1797.5" cy="549" r="4.05"/><circle cx="1803.6" cy="549" r="4.05"/><circle cx="1806.7" cy="549.6" r="4.05"/><circle cx="1814.1" cy="549.9" r="4.05"/><circle cx="1778.8" cy="554" r="4.05"/><circle cx="1788.7" cy="552.7" r="4.05"/><circle cx="1799" cy="553" r="4.05"/><circle cx="1806" cy="552.6" r="4.05"/><circle cx="1810.4" cy="554.5" r="4.05"/><circle cx="1816.4" cy="553.1" r="4.05"/><circle cx="1776.2" cy="559" r="4.05"/><circle cx="1780.9" cy="557.3" r="4.05"/><circle cx="1786.3" cy="558.1" r="4.05"/><circle cx="1791.6" cy="556.9" r="4.05"/><circle cx="1797" cy="558.3" r="4.05"/><circle cx="1803" cy="558.1" r="4.05"/><circle cx="1808.1" cy="557" r="4.05"/><circle cx="1813.6" cy="559" r="4.05"/><circle cx="1784.1" cy="562.4" r="4.05"/><circle cx="1789.8" cy="561.6" r="4.05"/><circle cx="1799.1" cy="562.2" r="4.05"/><circle cx="1814.6" cy="562.3" r="4.05"/><circle cx="1802.8" cy="566.3" r="4.05"/><circle cx="1807.4" cy="566.8" r="4.05"/><circle cx="1813.8" cy="568.3" r="4.05"/><circle cx="1810.3" cy="570.6" r="4.05"/><circle cx="1825.4" cy="534.3" r="4.05"/><circle cx="1828.5" cy="534.6" r="4.05"/><circle cx="1834" cy="535.5" r="4.05"/><circle cx="1839.8" cy="535.2" r="4.05"/><circle cx="1845.9" cy="534.2" r="4.05"/><circle cx="1849.1" cy="534.6" r="4.05"/><circle cx="1822.6" cy="539.4" r="4.05"/><circle cx="1826.3" cy="540.9" r="4.05"/><circle cx="1837" cy="540.1" r="4.05"/><circle cx="1842.9" cy="539.7" r="4.05"/><circle cx="1848.6" cy="539.9" r="4.05"/><circle cx="1851.8" cy="540.8" r="4.05"/><circle cx="1823.5" cy="545.3" r="4.05"/><circle cx="1830" cy="545.1" r="4.05"/><circle cx="1834.3" cy="545.1" r="4.05"/><circle cx="1840.5" cy="543.2" r="4.05"/><circle cx="1845.6" cy="545.3" r="4.05"/><circle cx="1850.3" cy="543.5" r="4.05"/><circle cx="1821.7" cy="548.7" r="4.05"/><circle cx="1832.1" cy="549.2" r="4.05"/><circle cx="1836.7" cy="547.5" r="4.05"/><circle cx="1841.9" cy="548.5" r="4.05"/><circle cx="1848.5" cy="549.6" r="4.05"/><circle cx="1852.6" cy="547.9" r="4.05"/><circle cx="1825.4" cy="552.5" r="4.05"/><circle cx="1829" cy="552" r="4.05"/><circle cx="1834.3" cy="552.4" r="4.05"/><circle cx="1839.2" cy="553" r="4.05"/><circle cx="1844.9" cy="553.4" r="4.05"/><circle cx="1849.3" cy="552.2" r="4.05"/><circle cx="1855.5" cy="552.9" r="4.05"/><circle cx="1821.7" cy="558.2" r="4.05"/><circle cx="1825.8" cy="556.5" r="4.05"/><circle cx="1831.8" cy="557.9" r="4.05"/><circle cx="1836.9" cy="558.8" r="4.05"/><circle cx="1847" cy="558.6" r="4.05"/><circle cx="1830.1" cy="563.4" r="4.05"/><circle cx="1833.9" cy="563.3" r="4.05"/><circle cx="1838.9" cy="562.5" r="4.05"/><circle cx="1845" cy="561.4" r="4.05"/><circle cx="1850.5" cy="562.1" r="4.05"/><circle cx="1837.1" cy="567.2" r="4.05"/><circle cx="1842.4" cy="566.4" r="4.05"/><circle cx="1847" cy="566" r="4.05"/>
<line x1="1819" y1="532.3" x2="1819" y2="841.5" class="rd"/>
<path d="M1507,524.1V868.7H2130.2" class="ax"/>
<path d="M1501,532.3H1507M1501,641.4H1507M1501,750.6H1507M1501,860.2H1507M1523,868.7V874.7M1632.2,868.7V874.7M1741.3,868.7V874.7M1850.5,868.7V874.7M1959.6,868.7V874.7M2068.8,868.7V874.7" class="tk"/>
<text x="1499" y="537.3" class="yl">0</text>
<text x="1499" y="646.4" class="yl">.5</text>
<text x="1499" y="755.6" class="yl">1</text>
<text x="1499" y="865.2" class="yl">1.5</text>
<text x="1523" y="887.7" class="xl">−3</text>
<text x="1632.2" y="887.7" class="xl">−2</text>
<text x="1741.3" y="887.7" class="xl">−1</text>
<text x="1850.5" y="887.7" class="xl">0</text>
<text x="1959.6" y="887.7" class="xl">1</text>
<text x="2068.8" y="887.7" class="xl">2</text>
<text x="1819.4" y="908.8" class="at" text-anchor="middle">ln(RR)</text>
<text transform="translate(1462,693) rotate(-90)" class="at" text-anchor="middle">SE of ln(RR)</text>
<text x="1434.8" y="495" class="ti" textLength="517.5" lengthAdjust="spacingAndGlyphs">f) Diagnostic procedure by cancer group</text>
<text x="1538.5" y="782.2" class="st">n: 307</text>
<text x="1538.5" y="801.2" class="st">Coefficient: -0.55</text>
<text x="1538.5" y="820.2" class="st">CI: -0.79, -0.32</text>
<text x="1538.5" y="839.2" class="st">p: <0.001</text>
<line x1="53.9" y1="995.6" x2="689.8" y2="995.6" class="gr"/>
<line x1="53.9" y1="1058.1" x2="689.8" y2="1058.1" class="gr"/>
<line x1="53.9" y1="1120.6" x2="689.8" y2="1120.6" class="gr"/>
<line x1="53.9" y1="1183.1" x2="689.8" y2="1183.1" class="gr"/>
<line x1="53.9" y1="1245.6" x2="689.8" y2="1245.6" class="gr"/>
<line x1="53.9" y1="1308.1" x2="689.8" y2="1308.1" class="gr"/>
<line x1="62.9" y1="986" x2="62.9" y2="1333" class="gr"/>
<line x1="186.5" y1="986" x2="186.5" y2="1333" class="gr"/>
<line x1="310.1" y1="986" x2="310.1" y2="1333" class="gr"/>
<line x1="433.8" y1="986" x2="433.8" y2="1333" class="gr"/>
<line x1="557.4" y1="986" x2="557.4" y2="1333" class="gr"/>
<line x1="681" y1="986" x2="681" y2="1333" class="gr"/>
<polyline points="264.7,1325.1 392,995.6 520.4,1325.1" class="fn"/>
<circle cx="207.6" cy="1002.9" r="4.05"/><circle cx="253.9" cy="1018" r="4.05"/><circle cx="241.1" cy="1044.6" r="4.05"/><circle cx="184" cy="1097.8" r="4.05"/><circle cx="240.7" cy="1127.9" r="4.05"/><circle cx="277.8" cy="1097.8" r="4.05"/><circle cx="287" cy="1074.7" r="4.05"/><circle cx="296.3" cy="1115.6" r="4.05"/><circle cx="301.7" cy="1080.9" r="4.05"/><circle cx="304" cy="1040.7" r="4.05"/><circle cx="307.5" cy="1035" r="4.05"/><circle cx="315.6" cy="1116.4" r="4.05"/><circle cx="328.3" cy="1013.7" r="4.05"/><circle cx="333" cy="1036.9" r="4.05"/><circle cx="339.5" cy="1028" r="4.05"/><circle cx="343.8" cy="1012.2" r="4.05"/><circle cx="333" cy="1069.3" r="4.05"/><circle cx="331.8" cy="1082.4" r="4.05"/><circle cx="338.7" cy="1081.6" r="4.05"/><circle cx="341.4" cy="1078.2" r="4.05"/><circle cx="344.9" cy="1115.6" r="4.05"/><circle cx="350.3" cy="998.7" r="4.05"/><circle cx="354.2" cy="1046.5" r="4.05"/><circle cx="359.6" cy="1052.3" r="4.05"/><circle cx="361.9" cy="1059.3" r="4.05"/><circle cx="361.9" cy="1018.4" r="4.05"/><circle cx="371.5" cy="1079.7" r="4.05"/><circle cx="373.5" cy="1023.8" r="4.05"/><circle cx="374.2" cy="1047.7" r="4.05"/><circle cx="373.5" cy="1049.2" r="4.05"/><circle cx="375.4" cy="1065.8" r="4.05"/><circle cx="378.1" cy="997.1" r="4.05"/><circle cx="381.9" cy="999.1" r="4.05"/><circle cx="381.2" cy="1016.4" r="4.05"/><circle cx="383.1" cy="1014.5" r="4.05"/><circle cx="378.5" cy="1106.3" r="4.05"/><circle cx="381.2" cy="1060" r="4.05"/><circle cx="384.3" cy="1076.2" r="4.05"/><circle cx="385.8" cy="1082.4" r="4.05"/><circle cx="387" cy="1006.8" r="4.05"/><circle cx="388.9" cy="1008.3" r="4.05"/><circle cx="388.1" cy="1058.1" r="4.05"/><circle cx="389.7" cy="1026.5" r="4.05"/><circle cx="391.6" cy="1036.9" r="4.05"/><circle cx="393.5" cy="1040.7" r="4.05"/><circle cx="392.7" cy="1044.6" r="4.05"/><circle cx="391.6" cy="1097.1" r="4.05"/><circle cx="392.7" cy="1126.8" r="4.05"/><circle cx="395.5" cy="1069.7" r="4.05"/><circle cx="396.6" cy="1076.6" r="4.05"/><circle cx="397.4" cy="1004.1" r="4.05"/><circle cx="399.3" cy="1006" r="4.05"/><circle cx="401.2" cy="1067" r="4.05"/><circle cx="401.2" cy="1036.9" r="4.05"/><circle cx="403.9" cy="1025.3" r="4.05"/><circle cx="405.9" cy="1028.4" r="4.05"/><circle cx="405.1" cy="1077.4" r="4.05"/><circle cx="407" cy="1076.2" r="4.05"/><circle cx="405.1" cy="1093.6" r="4.05"/><circle cx="408.9" cy="1095.5" r="4.05"/><circle cx="406.2" cy="1000.2" r="4.05"/><circle cx="410.9" cy="1001.4" r="4.05"/><circle cx="408.2" cy="1007.9" r="4.05"/><circle cx="405.1" cy="1006.8" r="4.05"/><circle cx="408.9" cy="1016" r="4.05"/><circle cx="410.1" cy="1019.5" r="4.05"/><circle cx="412.8" cy="1013.7" r="4.05"/><circle cx="410.9" cy="1023.4" r="4.05"/><circle cx="412" cy="1029.2" r="4.05"/><circle cx="408.2" cy="1030.3" r="4.05"/><circle cx="414.7" cy="1016.4" r="4.05"/><circle cx="417.8" cy="1017.6" r="4.05"/><circle cx="420.5" cy="1020.7" r="4.05"/><circle cx="414.7" cy="1059.3" r="4.05"/><circle cx="414" cy="1118.7" r="4.05"/><circle cx="419.8" cy="1029.2" r="4.05"/><circle cx="423.6" cy="1028.4" r="4.05"/><circle cx="423.6" cy="1019.5" r="4.05"/><circle cx="426.7" cy="1018.4" r="4.05"/><circle cx="424.4" cy="1039.6" r="4.05"/><circle cx="422.5" cy="1062" r="4.05"/><circle cx="424.4" cy="1060" r="4.05"/><circle cx="425.5" cy="1109" r="4.05"/><circle cx="428.2" cy="1187.3" r="4.05"/><circle cx="425.5" cy="1000.2" r="4.05"/><circle cx="424.4" cy="1004.1" r="4.05"/><circle cx="429" cy="996.4" r="4.05"/><circle cx="426.7" cy="1002.2" r="4.05"/><circle cx="430.2" cy="1046.5" r="4.05"/><circle cx="428.2" cy="1075.5" r="4.05"/><circle cx="431.3" cy="1075.5" r="4.05"/><circle cx="432.1" cy="1097.8" r="4.05"/><circle cx="434" cy="997.5" r="4.05"/><circle cx="436.7" cy="996" r="4.05"/><circle cx="432.9" cy="1008" r="4.05"/><circle cx="436" cy="1009.1" r="4.05"/><circle cx="439.8" cy="1009.9" r="4.05"/><circle cx="436" cy="1071.6" r="4.05"/><circle cx="434" cy="1060" r="4.05"/><circle cx="439.8" cy="1047.7" r="4.05"/><circle cx="441.7" cy="1054.2" r="4.05"/><circle cx="440.6" cy="1056.2" r="4.05"/><circle cx="444.1" cy="996.8" r="4.05"/><circle cx="449.5" cy="1080.5" r="4.05"/><circle cx="457.6" cy="1075.5" r="4.05"/><circle cx="469.5" cy="1021.1" r="4.05"/><circle cx="473.8" cy="1101.3" r="4.05"/><circle cx="475.7" cy="1108.6" r="4.05"/><circle cx="485.3" cy="1066.2" r="4.05"/><circle cx="498.8" cy="1090.1" r="4.05"/><circle cx="483.4" cy="1325.5" r="4.05"/>
<line x1="392" y1="995.6" x2="392" y2="1325.1" class="rd"/>
<path d="M52.9,986V1334H689.8" class="ax"/>
<path d="M46.9,995.6H52.9M46.9,1058.1H52.9M46.9,1120.6H52.9M46.9,1183.1H52.9M46.9,1245.6H52.9M46.9,1308.1H52.9M62.9,1334V1340M186.5,1334V1340M310.1,1334V1340M433.8,1334V1340M557.4,1334V1340M681,1334V1340" class="tk"/>
<text x="44.9" y="1000.6" class="yl">0</text>
<text x="44.9" y="1063.1" class="yl">.1</text>
<text x="44.9" y="1125.6" class="yl">.2</text>
<text x="44.9" y="1188.1" class="yl">.3</text>
<text x="44.9" y="1250.6" class="yl">.4</text>
<text x="44.9" y="1313.1" class="yl">.5</text>
<text x="62.9" y="1353" class="xl">−3</text>
<text x="186.5" y="1353" class="xl">−2</text>
<text x="310.1" y="1353" class="xl">−1</text>
<text x="433.8" y="1353" class="xl">0</text>
<text x="557.4" y="1353" class="xl">1</text>
<text x="681" y="1353" class="xl">2</text>
<text x="372.3" y="1374.5" class="at" text-anchor="middle">ln(RR)</text>
<text transform="translate(17,1157.5) rotate(-90)" class="at" text-anchor="middle">SE of ln(RR)</text>
<text x="0" y="959" class="ti" textLength="556.7" lengthAdjust="spacingAndGlyphs">g) Overall treatment (by continent and HDI)</text>
<text x="66.4" y="1264.6" class="st">n: 122</text>
<text x="66.4" y="1283.7" class="st">Coefficient: -0.76</text>
<text x="66.4" y="1302.8" class="st">CI: -1.36, -0.17</text>
<text x="66.4" y="1321.9" class="st">p: 0.01</text>
<line x1="779.3" y1="996.8" x2="1415" y2="996.8" class="gr"/>
<line x1="779.3" y1="1106.7" x2="1415" y2="1106.7" class="gr"/>
<line x1="779.3" y1="1216.7" x2="1415" y2="1216.7" class="gr"/>
<line x1="779.3" y1="1326.6" x2="1415" y2="1326.6" class="gr"/>
<line x1="787.2" y1="987.9" x2="787.2" y2="1335" class="gr"/>
<line x1="911" y1="987.9" x2="911" y2="1335" class="gr"/>
<line x1="1034.7" y1="987.9" x2="1034.7" y2="1335" class="gr"/>
<line x1="1158.5" y1="987.9" x2="1158.5" y2="1335" class="gr"/>
<line x1="1282.2" y1="987.9" x2="1282.2" y2="1335" class="gr"/>
<line x1="1406" y1="987.9" x2="1406" y2="1335" class="gr"/>
<polyline points="979.7,1313.9 1119.4,996.8 1258.6,1313.9" class="fn"/>
<circle cx="933.4" cy="1004.5" r="4.05"/><circle cx="935.3" cy="1011.8" r="4.05"/><circle cx="978.9" cy="1016.8" r="4.05"/><circle cx="908.3" cy="1087" r="4.05"/><circle cx="965.4" cy="1113.3" r="4.05"/><circle cx="936.9" cy="1262.6" r="4.05"/><circle cx="993.2" cy="1273" r="4.05"/><circle cx="1022.1" cy="1313.9" r="4.05"/><circle cx="1072.3" cy="1297.7" r="4.05"/><circle cx="1035.3" cy="1200.1" r="4.05"/><circle cx="1003.2" cy="1087" r="4.05"/><circle cx="1021" cy="1102.5" r="4.05"/><circle cx="1025.2" cy="1104.4" r="4.05"/><circle cx="1022.1" cy="1121" r="4.05"/><circle cx="1040.3" cy="1103.2" r="4.05"/><circle cx="1028.7" cy="1036.9" r="4.05"/><circle cx="1031.8" cy="1031.5" r="4.05"/><circle cx="1053" cy="1013" r="4.05"/><circle cx="1058" cy="1033" r="4.05"/><circle cx="1049.5" cy="1054.2" r="4.05"/><circle cx="1057.3" cy="1062" r="4.05"/><circle cx="1063.4" cy="1072.4" r="4.05"/><circle cx="1065.7" cy="1069.3" r="4.05"/><circle cx="1052.6" cy="1080.1" r="4.05"/><circle cx="1059.2" cy="1090.5" r="4.05"/><circle cx="1069.2" cy="1102.9" r="4.05"/><circle cx="1055.7" cy="1128.7" r="4.05"/><circle cx="1058.8" cy="1128.7" r="4.05"/><circle cx="1066.1" cy="1125.2" r="4.05"/><circle cx="1068.4" cy="1154.9" r="4.05"/><circle cx="1071.5" cy="1050.4" r="4.05"/><circle cx="1078.9" cy="1041.5" r="4.05"/><circle cx="1085" cy="1047.7" r="4.05"/><circle cx="1087" cy="1053.1" r="4.05"/><circle cx="1084.3" cy="1078.2" r="4.05"/><circle cx="1085.8" cy="1076.2" r="4.05"/><circle cx="1084.3" cy="1100.9" r="4.05"/><circle cx="1088.9" cy="1126.8" r="4.05"/><circle cx="1094.3" cy="1100.2" r="4.05"/><circle cx="1096.6" cy="1070.8" r="4.05"/><circle cx="1097.4" cy="1082.4" r="4.05"/><circle cx="1098.5" cy="1148.8" r="4.05"/><circle cx="1102.8" cy="1137.6" r="4.05"/><circle cx="1103.2" cy="1094" r="4.05"/><circle cx="1099.3" cy="1036.1" r="4.05"/><circle cx="1099.3" cy="1042.7" r="4.05"/><circle cx="1100.5" cy="1057.3" r="4.05"/><circle cx="1105.1" cy="1054.2" r="4.05"/><circle cx="1108.2" cy="1063.1" r="4.05"/><circle cx="1110.1" cy="1067" r="4.05"/><circle cx="1111.3" cy="1073.5" r="4.05"/><circle cx="1112.8" cy="1052.3" r="4.05"/><circle cx="1114.7" cy="1055.4" r="4.05"/><circle cx="1115.1" cy="1085.9" r="4.05"/><circle cx="1116.7" cy="1112.5" r="4.05"/><circle cx="1115.1" cy="998.3" r="4.05"/><circle cx="1112.8" cy="1007.2" r="4.05"/><circle cx="1114.7" cy="1015.7" r="4.05"/><circle cx="1113.6" cy="1023.4" r="4.05"/><circle cx="1116.7" cy="1033" r="4.05"/><circle cx="1120.5" cy="1068.5" r="4.05"/><circle cx="1123.2" cy="1143" r="4.05"/><circle cx="1124.4" cy="1050.4" r="4.05"/><circle cx="1126.3" cy="1059.3" r="4.05"/><circle cx="1125.5" cy="1116.7" r="4.05"/><circle cx="1124.4" cy="1025.3" r="4.05"/><circle cx="1126.3" cy="1029.2" r="4.05"/><circle cx="1128.2" cy="1031.1" r="4.05"/><circle cx="1125.2" cy="1007.9" r="4.05"/><circle cx="1132.1" cy="1002.2" r="4.05"/><circle cx="1134" cy="1007.9" r="4.05"/><circle cx="1132.9" cy="1013.7" r="4.05"/><circle cx="1128.2" cy="1040.7" r="4.05"/><circle cx="1132.1" cy="1042.7" r="4.05"/><circle cx="1131.3" cy="1048.5" r="4.05"/><circle cx="1132.1" cy="1067.7" r="4.05"/><circle cx="1131.3" cy="1073.5" r="4.05"/><circle cx="1134" cy="1083.2" r="4.05"/><circle cx="1135.2" cy="1084.3" r="4.05"/><circle cx="1136.7" cy="1140.3" r="4.05"/><circle cx="1139" cy="1104.4" r="4.05"/><circle cx="1139" cy="1052.3" r="4.05"/><circle cx="1136" cy="1017.6" r="4.05"/><circle cx="1139.8" cy="1018.4" r="4.05"/><circle cx="1143.7" cy="1015.7" r="4.05"/><circle cx="1136" cy="1025.3" r="4.05"/><circle cx="1141.7" cy="1027.2" r="4.05"/><circle cx="1139.8" cy="1036.1" r="4.05"/><circle cx="1143.7" cy="1035" r="4.05"/><circle cx="1143.7" cy="1089" r="4.05"/><circle cx="1145.6" cy="1091.7" r="4.05"/><circle cx="1146.4" cy="1000.2" r="4.05"/><circle cx="1149.5" cy="999.5" r="4.05"/><circle cx="1152.2" cy="1000.2" r="4.05"/><circle cx="1154.5" cy="1001.4" r="4.05"/><circle cx="1145.6" cy="1007.9" r="4.05"/><circle cx="1147.5" cy="1011.8" r="4.05"/><circle cx="1144.8" cy="1019.5" r="4.05"/><circle cx="1147.5" cy="1023.4" r="4.05"/><circle cx="1149.5" cy="1026.1" r="4.05"/><circle cx="1146.7" cy="1040.7" r="4.05"/><circle cx="1149.5" cy="1036.9" r="4.05"/><circle cx="1147.5" cy="1058.1" r="4.05"/><circle cx="1145.6" cy="1056.2" r="4.05"/><circle cx="1145.6" cy="1065.8" r="4.05"/><circle cx="1149.5" cy="1095.9" r="4.05"/><circle cx="1153.3" cy="1135.3" r="4.05"/><circle cx="1153.3" cy="1165.4" r="4.05"/><circle cx="1149.8" cy="1194.3" r="4.05"/><circle cx="1158.3" cy="1130.2" r="4.05"/><circle cx="1152.2" cy="1077.4" r="4.05"/><circle cx="1153.3" cy="1081.2" r="4.05"/><circle cx="1153.3" cy="1067.7" r="4.05"/><circle cx="1155.2" cy="1065" r="4.05"/><circle cx="1159.9" cy="1063.9" r="4.05"/><circle cx="1157.2" cy="1085.1" r="4.05"/><circle cx="1157.6" cy="1053.5" r="4.05"/><circle cx="1151.4" cy="1042.7" r="4.05"/><circle cx="1155.2" cy="1044.6" r="4.05"/><circle cx="1153.3" cy="1029.2" r="4.05"/><circle cx="1156.4" cy="1031.1" r="4.05"/><circle cx="1161" cy="1032.3" r="4.05"/><circle cx="1157.2" cy="1004.1" r="4.05"/><circle cx="1161" cy="1006" r="4.05"/><circle cx="1162.2" cy="1009.1" r="4.05"/><circle cx="1158.3" cy="1013.7" r="4.05"/><circle cx="1164.9" cy="1047.7" r="4.05"/><circle cx="1166.8" cy="1049.2" r="4.05"/><circle cx="1168.7" cy="1060" r="4.05"/><circle cx="1167.2" cy="1079.3" r="4.05"/><circle cx="1168.7" cy="1090.9" r="4.05"/><circle cx="1166" cy="1022.2" r="4.05"/><circle cx="1173.8" cy="1021.5" r="4.05"/><circle cx="1176.5" cy="1023.4" r="4.05"/><circle cx="1174.5" cy="1050.4" r="4.05"/><circle cx="1173.8" cy="1070.8" r="4.05"/><circle cx="1182.3" cy="1067" r="4.05"/><circle cx="1194.6" cy="1019.5" r="4.05"/><circle cx="1209.3" cy="1058.9" r="4.05"/><circle cx="1198.5" cy="1090.1" r="4.05"/><circle cx="1200.4" cy="1095.9" r="4.05"/><circle cx="1223.5" cy="1079.7" r="4.05"/><circle cx="1244" cy="1220.9" r="4.05"/><circle cx="1208.5" cy="1286.5" r="4.05"/>
<line x1="1119.4" y1="996.8" x2="1119.4" y2="1313.9" class="rd"/>
<path d="M778.3,987.9V1336H1415" class="ax"/>
<path d="M772.3,996.8H778.3M772.3,1106.7H778.3M772.3,1216.7H778.3M772.3,1326.6H778.3M787.2,1336V1342M911,1336V1342M1034.7,1336V1342M1158.5,1336V1342M1282.2,1336V1342M1406,1336V1342" class="tk"/>
<text x="770.3" y="1001.8" class="yl">0</text>
<text x="770.3" y="1111.7" class="yl">.2</text>
<text x="770.3" y="1221.7" class="yl">.4</text>
<text x="770.3" y="1331.6" class="yl">.6</text>
<text x="787.2" y="1355" class="xl">−3</text>
<text x="911" y="1355" class="xl">−2</text>
<text x="1034.7" y="1355" class="xl">−1</text>
<text x="1158.5" y="1355" class="xl">0</text>
<text x="1282.2" y="1355" class="xl">1</text>
<text x="1406" y="1355" class="xl">2</text>
<text x="1097.4" y="1375.6" class="at" text-anchor="middle">ln(RR)</text>
<text transform="translate(742,1158.8) rotate(-90)" class="at" text-anchor="middle">SE of ln(RR)</text>
<text x="716.2" y="959" class="ti" textLength="493" lengthAdjust="spacingAndGlyphs">h) Overall treatment (by cancer group)</text>
<text x="795.3" y="1257" class="st">n: 163</text>
<text x="795.3" y="1275.9" class="st">Coefficient: -0.94</text>
<text x="795.3" y="1294.8" class="st">CI: -1.62, -0.27</text>
<text x="795.3" y="1313.7" class="st">p: 0.006</text>
<line x1="1504.9" y1="998" x2="2133" y2="998" class="gr"/>
<line x1="1504.9" y1="1145.7" x2="2133" y2="1145.7" class="gr"/>
<line x1="1504.9" y1="1292.6" x2="2133" y2="1292.6" class="gr"/>
<line x1="1513.2" y1="990.3" x2="1513.2" y2="1335.1" class="gr"/>
<line x1="1635.4" y1="990.3" x2="1635.4" y2="1335.1" class="gr"/>
<line x1="1757.7" y1="990.3" x2="1757.7" y2="1335.1" class="gr"/>
<line x1="1879.9" y1="990.3" x2="1879.9" y2="1335.1" class="gr"/>
<line x1="2002.2" y1="990.3" x2="2002.2" y2="1335.1" class="gr"/>
<line x1="2124.4" y1="990.3" x2="2124.4" y2="1335.1" class="gr"/>
<polyline points="1570.8,1327.1 1838.4,998 2105.8,1327.1" class="fn"/>
<circle cx="1657.8" cy="1001.9" r="4.05"/><circle cx="1657.8" cy="1007.4" r="4.05"/><circle cx="1657" cy="1011.3" r="4.05"/><circle cx="1671.8" cy="1015.1" r="4.05"/><circle cx="1660.9" cy="1022.9" r="4.05"/><circle cx="1618.9" cy="1036.5" r="4.05"/><circle cx="1635.6" cy="1059.8" r="4.05"/><circle cx="1629" cy="1076.5" r="4.05"/><circle cx="1689.6" cy="1060.6" r="4.05"/><circle cx="1660.9" cy="1140.6" r="4.05"/><circle cx="1716.8" cy="1146.5" r="4.05"/><circle cx="1713" cy="1327.9" r="4.05"/><circle cx="1726.9" cy="1046.6" r="4.05"/><circle cx="1733.5" cy="1023.7" r="4.05"/><circle cx="1741.7" cy="1105.7" r="4.05"/><circle cx="1744.8" cy="1054.8" r="4.05"/><circle cx="1745.6" cy="1064.9" r="4.05"/><circle cx="1749.1" cy="1031.1" r="4.05"/><circle cx="1752.2" cy="1138.3" r="4.05"/><circle cx="1754.9" cy="1158.5" r="4.05"/><circle cx="1762.7" cy="1153.5" r="4.05"/><circle cx="1745.6" cy="1168.6" r="4.05"/><circle cx="1758.4" cy="1107.2" r="4.05"/><circle cx="1760" cy="1197.8" r="4.05"/><circle cx="1761.1" cy="1029.1" r="4.05"/><circle cx="1763.5" cy="1055.2" r="4.05"/><circle cx="1768.5" cy="1037.7" r="4.05"/><circle cx="1772" cy="1078.9" r="4.05"/><circle cx="1772.8" cy="1029.1" r="4.05"/><circle cx="1775.9" cy="1006.6" r="4.05"/><circle cx="1780.6" cy="1017.5" r="4.05"/><circle cx="1781.3" cy="1033" r="4.05"/><circle cx="1782.1" cy="1048.6" r="4.05"/><circle cx="1779.4" cy="1069.1" r="4.05"/><circle cx="1788.3" cy="1036.9" r="4.05"/><circle cx="1794.9" cy="1041.6" r="4.05"/><circle cx="1788.7" cy="1117.3" r="4.05"/><circle cx="1794.9" cy="1159.3" r="4.05"/><circle cx="1799.6" cy="1025.2" r="4.05"/><circle cx="1802.7" cy="1055.9" r="4.05"/><circle cx="1807.7" cy="1054" r="4.05"/><circle cx="1802.7" cy="1100.6" r="4.05"/><circle cx="1807.4" cy="1025.2" r="4.05"/><circle cx="1811.6" cy="1026.8" r="4.05"/><circle cx="1807.7" cy="1041.6" r="4.05"/><circle cx="1813.2" cy="1042.7" r="4.05"/><circle cx="1811.6" cy="1068" r="4.05"/><circle cx="1813.6" cy="1137.9" r="4.05"/><circle cx="1814.4" cy="1078.5" r="4.05"/><circle cx="1820.2" cy="1079.6" r="4.05"/><circle cx="1816.3" cy="1053.2" r="4.05"/><circle cx="1819.4" cy="1038.5" r="4.05"/><circle cx="1820.2" cy="1019.4" r="4.05"/><circle cx="1821.4" cy="1024.5" r="4.05"/><circle cx="1820.2" cy="1092.1" r="4.05"/><circle cx="1821" cy="1064.1" r="4.05"/><circle cx="1821.4" cy="1070.7" r="4.05"/><circle cx="1824.1" cy="1046.2" r="4.05"/><circle cx="1824.1" cy="1028" r="4.05"/><circle cx="1828" cy="1029.1" r="4.05"/><circle cx="1827.2" cy="1060.2" r="4.05"/><circle cx="1829.9" cy="1057.9" r="4.05"/><circle cx="1829.9" cy="1071.9" r="4.05"/><circle cx="1829.9" cy="1188.4" r="4.05"/><circle cx="1831.1" cy="1036.5" r="4.05"/><circle cx="1833.8" cy="1004.6" r="4.05"/><circle cx="1836.5" cy="1004.6" r="4.05"/><circle cx="1834.9" cy="1012.4" r="4.05"/><circle cx="1833.8" cy="1016.3" r="4.05"/><circle cx="1833.8" cy="1025.2" r="4.05"/><circle cx="1836.9" cy="1091.3" r="4.05"/><circle cx="1838.8" cy="1045.4" r="4.05"/><circle cx="1840.8" cy="1060.2" r="4.05"/><circle cx="1841.6" cy="1004.6" r="4.05"/><circle cx="1843.5" cy="1005.8" r="4.05"/><circle cx="1845.4" cy="1071.9" r="4.05"/><circle cx="1845.8" cy="1076.5" r="4.05"/><circle cx="1858.3" cy="1074.6" r="4.05"/><circle cx="1860.2" cy="1055.2" r="4.05"/><circle cx="1860.2" cy="1059" r="4.05"/><circle cx="1862.9" cy="1085.5" r="4.05"/><circle cx="1868.8" cy="1121.2" r="4.05"/><circle cx="1870.7" cy="1104.1" r="4.05"/><circle cx="1873.4" cy="1104.1" r="4.05"/><circle cx="1870.7" cy="1143.7" r="4.05"/><circle cx="1874.6" cy="1071.9" r="4.05"/><circle cx="1879.6" cy="1069.5" r="4.05"/><circle cx="1878.5" cy="1057.1" r="4.05"/><circle cx="1871.5" cy="1051.3" r="4.05"/><circle cx="1876.5" cy="1045.4" r="4.05"/><circle cx="1878.5" cy="1047.4" r="4.05"/><circle cx="1885.5" cy="1050.1" r="4.05"/><circle cx="1888.2" cy="1048.6" r="4.05"/><circle cx="1895.2" cy="1051.3" r="4.05"/><circle cx="1899" cy="1081.6" r="4.05"/><circle cx="1903.7" cy="1063.7" r="4.05"/><circle cx="1909.6" cy="1057.9" r="4.05"/><circle cx="1921.2" cy="1051.3" r="4.05"/><circle cx="1904.1" cy="1008.9" r="4.05"/><circle cx="1915.4" cy="1009.7" r="4.05"/><circle cx="1930.9" cy="1031.5" r="4.05"/><circle cx="1943.7" cy="1067.2" r="4.05"/><circle cx="1964.7" cy="1118.1" r="4.05"/><circle cx="1929" cy="1153.5" r="4.05"/><circle cx="1938.3" cy="1195.8" r="4.05"/><circle cx="1914.6" cy="1223" r="4.05"/><circle cx="1832.9" cy="1003.6" r="4.05"/><circle cx="1842.2" cy="1004.1" r="4.05"/><circle cx="1834.9" cy="1012.9" r="4.05"/><circle cx="1832.9" cy="1021.7" r="4.05"/><circle cx="1831.5" cy="1036.3" r="4.05"/><circle cx="1842.7" cy="1036.3" r="4.05"/><circle cx="1837.8" cy="1046" r="4.05"/><circle cx="1832.9" cy="1052.3" r="4.05"/><circle cx="1860.7" cy="1055.8" r="4.05"/><circle cx="1879.7" cy="1057.2" r="4.05"/><circle cx="1908.9" cy="1057.2" r="4.05"/><circle cx="1896.7" cy="1011.9" r="4.05"/><circle cx="1904.5" cy="1009.5" r="4.05"/><circle cx="1915.2" cy="1010" r="4.05"/><circle cx="1919.6" cy="1051.4" r="4.05"/><circle cx="1878.2" cy="1046" r="4.05"/><circle cx="1895.8" cy="1050.9" r="4.05"/><circle cx="1865.4" cy="997.8" r="4.05"/><circle cx="1877.6" cy="996" r="4.05"/><circle cx="1850.5" cy="1002.1" r="4.05"/><circle cx="1870.3" cy="1001.2" r="4.05"/><circle cx="1875.5" cy="1003.7" r="4.05"/><circle cx="1880.6" cy="1003.8" r="4.05"/><circle cx="1854.2" cy="1006.3" r="4.05"/><circle cx="1867.3" cy="1006.4" r="4.05"/><circle cx="1872.6" cy="1007" r="4.05"/><circle cx="1876.7" cy="1006" r="4.05"/><circle cx="1889.4" cy="1006.8" r="4.05"/><circle cx="1846" cy="1011.8" r="4.05"/><circle cx="1852.5" cy="1011.6" r="4.05"/><circle cx="1857.8" cy="1013.5" r="4.05"/><circle cx="1862.9" cy="1013.8" r="4.05"/><circle cx="1875.9" cy="1011.3" r="4.05"/><circle cx="1879.5" cy="1012.9" r="4.05"/><circle cx="1886.9" cy="1013.5" r="4.05"/><circle cx="1893.1" cy="1012.7" r="4.05"/><circle cx="1848.9" cy="1018.4" r="4.05"/><circle cx="1854.7" cy="1017.9" r="4.05"/><circle cx="1866.8" cy="1018.9" r="4.05"/><circle cx="1871.6" cy="1017" r="4.05"/><circle cx="1876.6" cy="1017.3" r="4.05"/><circle cx="1850.8" cy="1021.7" r="4.05"/><circle cx="1858.8" cy="1021.2" r="4.05"/><circle cx="1863.6" cy="1023.6" r="4.05"/><circle cx="1870.4" cy="1021.7" r="4.05"/><circle cx="1874.7" cy="1023.6" r="4.05"/><circle cx="1879.9" cy="1021.4" r="4.05"/><circle cx="1885.9" cy="1022.4" r="4.05"/><circle cx="1891.8" cy="1020.9" r="4.05"/><circle cx="1848.6" cy="1027.6" r="4.05"/><circle cx="1855.4" cy="1027.5" r="4.05"/><circle cx="1861.1" cy="1026.1" r="4.05"/><circle cx="1867.2" cy="1028.6" r="4.05"/><circle cx="1871.9" cy="1027.1" r="4.05"/><circle cx="1882.5" cy="1026.1" r="4.05"/><circle cx="1844.8" cy="1031" r="4.05"/><circle cx="1862.1" cy="1033.6" r="4.05"/><circle cx="1868.2" cy="1031.7" r="4.05"/><circle cx="1874.7" cy="1031.3" r="4.05"/><circle cx="1882.4" cy="1032.4" r="4.05"/><circle cx="1885.5" cy="1031.3" r="4.05"/><circle cx="1891.8" cy="1033.4" r="4.05"/><circle cx="1854.9" cy="1036.4" r="4.05"/><circle cx="1859.2" cy="1037.6" r="4.05"/><circle cx="1867.5" cy="1038.1" r="4.05"/><circle cx="1871.8" cy="1036.5" r="4.05"/><circle cx="1878.1" cy="1038.3" r="4.05"/><circle cx="1883" cy="1038.4" r="4.05"/><circle cx="1890.7" cy="1038.4" r="4.05"/><circle cx="1896.1" cy="1036.7" r="4.05"/><circle cx="1851.5" cy="1041.1" r="4.05"/><circle cx="1862.8" cy="1043.1" r="4.05"/><circle cx="1869.1" cy="1043.8" r="4.05"/><circle cx="1876.5" cy="1042.1" r="4.05"/><circle cx="1880.1" cy="1041.6" r="4.05"/><circle cx="1893.7" cy="1043.5" r="4.05"/><circle cx="1898.8" cy="1043.4" r="4.05"/><circle cx="1861.8" cy="1048.4" r="4.05"/><circle cx="1866.3" cy="1046.6" r="4.05"/><circle cx="1871.7" cy="1048.4" r="4.05"/><circle cx="1877.7" cy="1047.2" r="4.05"/><circle cx="1884.5" cy="1046.5" r="4.05"/><circle cx="1870.2" cy="1051.5" r="4.05"/><circle cx="1876.5" cy="1053" r="4.05"/><circle cx="1881" cy="1051.4" r="4.05"/><circle cx="1892.9" cy="1052.6" r="4.05"/>
<line x1="1838.4" y1="998" x2="1838.4" y2="1327.1" class="rd"/>
<path d="M1503.9,990.3V1336.1H2133" class="ax"/>
<path d="M1497.9,998H1503.9M1497.9,1145.7H1503.9M1497.9,1292.6H1503.9M1513.2,1336.1V1342.1M1635.4,1336.1V1342.1M1757.7,1336.1V1342.1M1879.9,1336.1V1342.1M2002.2,1336.1V1342.1M2124.4,1336.1V1342.1" class="tk"/>
<text x="1495.9" y="1003" class="yl">0</text>
<text x="1495.9" y="1150.7" class="yl">.5</text>
<text x="1495.9" y="1297.6" class="yl">1</text>
<text x="1513.2" y="1355.1" class="xl">−3</text>
<text x="1635.4" y="1355.1" class="xl">−2</text>
<text x="1757.7" y="1355.1" class="xl">−1</text>
<text x="1879.9" y="1355.1" class="xl">0</text>
<text x="2002.2" y="1355.1" class="xl">1</text>
<text x="2124.4" y="1355.1" class="xl">2</text>
<text x="1819.4" y="1377.6" class="at" text-anchor="middle">ln(RR)</text>
<text transform="translate(1469,1160.5) rotate(-90)" class="at" text-anchor="middle">SE of ln(RR)</text>
<text x="1442.5" y="959.2" class="ti" textLength="340.8" lengthAdjust="spacingAndGlyphs">i) Treatment by cancer site</text>
<text x="1533.4" y="1258" class="st">n: 196</text>
<text x="1533.4" y="1277.1" class="st">Coefficient: -0.67</text>
<text x="1533.4" y="1296.2" class="st">CI: -1.22, -0.12</text>
<text x="1533.4" y="1315.3" class="st">p: 0.017</text>
<line x1="63.9" y1="1468.3" x2="608.8" y2="1468.3" class="gr"/>
<line x1="63.9" y1="1579.4" x2="608.8" y2="1579.4" class="gr"/>
<line x1="63.9" y1="1690.1" x2="608.8" y2="1690.1" class="gr"/>
<line x1="63.9" y1="1800.9" x2="608.8" y2="1800.9" class="gr"/>
<line x1="73.3" y1="1460.6" x2="73.3" y2="1809.1" class="gr"/>
<line x1="178.5" y1="1460.6" x2="178.5" y2="1809.1" class="gr"/>
<line x1="283.7" y1="1460.6" x2="283.7" y2="1809.1" class="gr"/>
<line x1="388.8" y1="1460.6" x2="388.8" y2="1809.1" class="gr"/>
<line x1="494" y1="1460.6" x2="494" y2="1809.1" class="gr"/>
<line x1="599.2" y1="1460.6" x2="599.2" y2="1809.1" class="gr"/>
<polyline points="233,1788.5 352.2,1468.3 471.5,1788.5" class="fn"/>
<circle cx="196.8" cy="1476" r="4.3"/><circle cx="197.9" cy="1483.7" r="4.3"/><circle cx="178.6" cy="1584.4" r="4.3"/><circle cx="225.7" cy="1586" r="4.3"/><circle cx="200.6" cy="1736.4" r="4.3"/><circle cx="248.8" cy="1746.9" r="4.3"/><circle cx="273.1" cy="1788.5" r="4.3"/><circle cx="316.4" cy="1771.9" r="4.3"/><circle cx="431.3" cy="1760.4" r="4.3"/><circle cx="284.3" cy="1673.5" r="4.3"/><circle cx="322.1" cy="1661.2" r="4.3"/><circle cx="312.5" cy="1627.6" r="4.3"/><circle cx="384.6" cy="1638.8" r="4.3"/><circle cx="370.4" cy="1613.4" r="4.3"/><circle cx="384.6" cy="1608" r="4.3"/><circle cx="263.1" cy="1516.1" r="4.3"/><circle cx="276.2" cy="1530.8" r="4.3"/><circle cx="257.3" cy="1559.7" r="4.3"/><circle cx="272.4" cy="1575.2" r="4.3"/><circle cx="274.7" cy="1577.1" r="4.3"/><circle cx="273.1" cy="1593.7" r="4.3"/><circle cx="288.6" cy="1575.6" r="4.3"/><circle cx="304" cy="1505" r="4.3"/><circle cx="297.1" cy="1526.6" r="4.3"/><circle cx="304" cy="1533.9" r="4.3"/><circle cx="310.6" cy="1541.6" r="4.3"/><circle cx="299" cy="1552.4" r="4.3"/><circle cx="304.8" cy="1562.8" r="4.3"/><circle cx="316.4" cy="1551.6" r="4.3"/><circle cx="315.6" cy="1522.3" r="4.3"/><circle cx="320.2" cy="1519.2" r="4.3"/><circle cx="302.9" cy="1602.2" r="4.3"/><circle cx="309.8" cy="1598.3" r="4.3"/><circle cx="327.2" cy="1550.1" r="4.3"/><circle cx="327.9" cy="1525.4" r="4.3"/><circle cx="331" cy="1522.3" r="4.3"/><circle cx="330.2" cy="1599.9" r="4.3"/><circle cx="326" cy="1573.6" r="4.3"/><circle cx="334.1" cy="1573.2" r="4.3"/><circle cx="332.9" cy="1564.4" r="4.3"/><circle cx="337.2" cy="1543.1" r="4.3"/><circle cx="338" cy="1508" r="4.3"/><circle cx="338.7" cy="1515" r="4.3"/><circle cx="338" cy="1606.4" r="4.3"/><circle cx="341.4" cy="1609.9" r="4.3"/><circle cx="336.8" cy="1554.3" r="4.3"/><circle cx="340.3" cy="1526.9" r="4.3"/><circle cx="343.4" cy="1526.9" r="4.3"/><circle cx="346.1" cy="1533.9" r="4.3"/><circle cx="348.4" cy="1540.8" r="4.3"/><circle cx="347.2" cy="1547.4" r="4.3"/><circle cx="349.5" cy="1479.9" r="4.3"/><circle cx="355.7" cy="1479.9" r="4.3"/><circle cx="351.1" cy="1487.6" r="4.3"/><circle cx="351.9" cy="1496.5" r="4.3"/><circle cx="349.5" cy="1513.8" r="4.3"/><circle cx="351.1" cy="1521.5" r="4.3"/><circle cx="349.2" cy="1571.3" r="4.3"/><circle cx="349.5" cy="1575.6" r="4.3"/><circle cx="353.4" cy="1559" r="4.3"/><circle cx="354.9" cy="1584" r="4.3"/><circle cx="356.9" cy="1532" r="4.3"/><circle cx="360.7" cy="1531.6" r="4.3"/><circle cx="362.7" cy="1530.8" r="4.3"/><circle cx="358" cy="1541.6" r="4.3"/><circle cx="356.9" cy="1507.7" r="4.3"/><circle cx="360.7" cy="1589.1" r="4.3"/><circle cx="360.7" cy="1497.2" r="4.3"/><circle cx="364.6" cy="1495.3" r="4.3"/><circle cx="362.7" cy="1504.2" r="4.3"/><circle cx="368.4" cy="1505.7" r="4.3"/><circle cx="364.6" cy="1516.5" r="4.3"/><circle cx="368.4" cy="1515.8" r="4.3"/><circle cx="366.5" cy="1546.6" r="4.3"/><circle cx="369.2" cy="1556.3" r="4.3"/><circle cx="371.5" cy="1525.4" r="4.3"/><circle cx="372.3" cy="1577.5" r="4.3"/><circle cx="373.5" cy="1559.7" r="4.3"/><circle cx="372.3" cy="1487.6" r="4.3"/><circle cx="370.4" cy="1491.5" r="4.3"/><circle cx="374.2" cy="1496.1" r="4.3"/><circle cx="376.2" cy="1481.8" r="4.3"/><circle cx="376.2" cy="1506.1" r="4.3"/><circle cx="380" cy="1506.9" r="4.3"/><circle cx="378.1" cy="1472.2" r="4.3"/><circle cx="381.9" cy="1471.4" r="4.3"/><circle cx="385" cy="1472.2" r="4.3"/><circle cx="380" cy="1489.5" r="4.3"/><circle cx="381.9" cy="1496.1" r="4.3"/><circle cx="377.3" cy="1538.5" r="4.3"/><circle cx="377.3" cy="1532" r="4.3"/><circle cx="381.9" cy="1526.2" r="4.3"/><circle cx="380" cy="1529.3" r="4.3"/><circle cx="381.9" cy="1569.4" r="4.3"/><circle cx="385.8" cy="1477.9" r="4.3"/><circle cx="389.7" cy="1479.9" r="4.3"/><circle cx="390.4" cy="1483.7" r="4.3"/><circle cx="387" cy="1538.5" r="4.3"/><circle cx="387.7" cy="1559" r="4.3"/><circle cx="385.8" cy="1497.2" r="4.3"/><circle cx="383.9" cy="1501.1" r="4.3"/><circle cx="385" cy="1510" r="4.3"/><circle cx="387.7" cy="1514.6" r="4.3"/><circle cx="385.8" cy="1515.4" r="4.3"/><circle cx="391.6" cy="1503.8" r="4.3"/><circle cx="394.3" cy="1494.5" r="4.3"/><circle cx="394.3" cy="1520.4" r="4.3"/><circle cx="395.5" cy="1522.3" r="4.3"/><circle cx="397.4" cy="1552.4" r="4.3"/><circle cx="397.4" cy="1563.6" r="4.3"/><circle cx="398.1" cy="1533.1" r="4.3"/><circle cx="402.4" cy="1543.5" r="4.3"/><circle cx="403.2" cy="1494.5" r="4.3"/><circle cx="408.2" cy="1592.5" r="4.3"/><circle cx="412" cy="1579.4" r="4.3"/><circle cx="419.8" cy="1491.5" r="4.3"/><circle cx="432.9" cy="1531.2" r="4.3"/><circle cx="443.7" cy="1552.4" r="4.3"/>
<line x1="352.2" y1="1468.3" x2="352.2" y2="1788.5" class="rd"/>
<path d="M62.9,1460.6V1810.1H608.8" class="ax"/>
<path d="M56.9,1468.3H62.9M56.9,1579.4H62.9M56.9,1690.1H62.9M56.9,1800.9H62.9M73.3,1810.1V1816.1M178.5,1810.1V1816.1M283.7,1810.1V1816.1M388.8,1810.1V1816.1M494,1810.1V1816.1M599.2,1810.1V1816.1" class="tk"/>
<text x="54.9" y="1473.3" class="yl" style="font-size:17px">0</text>
<text x="54.9" y="1584.4" class="yl" style="font-size:17px">.2</text>
<text x="54.9" y="1695.1" class="yl" style="font-size:17px">.4</text>
<text x="54.9" y="1805.9" class="yl" style="font-size:17px">.6</text>
<text x="73.3" y="1829.1" class="xl" style="font-size:17px">−3</text>
<text x="178.5" y="1829.1" class="xl" style="font-size:17px">−2</text>
<text x="283.7" y="1829.1" class="xl" style="font-size:17px">−1</text>
<text x="388.8" y="1829.1" class="xl" style="font-size:17px">0</text>
<text x="494" y="1829.1" class="xl" style="font-size:17px">1</text>
<text x="599.2" y="1829.1" class="xl" style="font-size:17px">2</text>
<text x="337.6" y="1850.2" class="at" text-anchor="middle" style="font-size:17px">ln(RR)</text>
<text transform="translate(21,1632.3) rotate(-90)" class="at" text-anchor="middle">SE of ln(RR)</text>
<text x="13.5" y="1426.6" class="ti" textLength="342.2" lengthAdjust="spacingAndGlyphs">j) Surgery by cancer group</text>
<text x="83.3" y="1732.3" class="st">n: 136</text>
<text x="83.3" y="1751.3" class="st">Coefficient: -1.55</text>
<text x="83.3" y="1770.3" class="st">CI: -2.39, -0.71</text>
<text x="83.3" y="1789.3" class="st">p: <0.001</text>
<line x1="785.1" y1="1467.1" x2="1410.6" y2="1467.1" class="gr"/>
<line x1="785.1" y1="1577.9" x2="1410.6" y2="1577.9" class="gr"/>
<line x1="785.1" y1="1689" x2="1410.6" y2="1689" class="gr"/>
<line x1="785.1" y1="1799.3" x2="1410.6" y2="1799.3" class="gr"/>
<line x1="793.8" y1="1457.9" x2="793.8" y2="1808" class="gr"/>
<line x1="909.9" y1="1457.9" x2="909.9" y2="1808" class="gr"/>
<line x1="1026" y1="1457.9" x2="1026" y2="1808" class="gr"/>
<line x1="1142.2" y1="1457.9" x2="1142.2" y2="1808" class="gr"/>
<line x1="1258.3" y1="1457.9" x2="1258.3" y2="1808" class="gr"/>
<line x1="1374.4" y1="1457.9" x2="1374.4" y2="1808" class="gr"/>
<polyline points="840.8,1738.4 1122.5,1469.5 1401,1738.4" class="fn"/>
<circle cx="903.7" cy="1526.2" r="4.05"/><circle cx="1036" cy="1496.9" r="4.05"/><circle cx="1079.2" cy="1528.1" r="4.05"/><circle cx="1085.8" cy="1528.9" r="4.05"/><circle cx="1061.5" cy="1738.4" r="4.05"/><circle cx="1101.2" cy="1491.1" r="4.05"/><circle cx="1105.9" cy="1488" r="4.05"/><circle cx="1110.9" cy="1487.6" r="4.05"/><circle cx="1113.6" cy="1485.7" r="4.05"/><circle cx="1117.4" cy="1489.9" r="4.05"/><circle cx="1109.7" cy="1525.8" r="4.05"/><circle cx="1122.5" cy="1469.5" r="4.05"/><circle cx="1130.6" cy="1476.8" r="4.05"/><circle cx="1126.7" cy="1533.5" r="4.05"/><circle cx="1128.2" cy="1505.7" r="4.05"/><circle cx="1130.9" cy="1504.2" r="4.05"/><circle cx="1130.9" cy="1491.8" r="4.05"/><circle cx="1133.3" cy="1490.3" r="4.05"/><circle cx="1134.4" cy="1546.6" r="4.05"/><circle cx="1136.7" cy="1499.9" r="4.05"/><circle cx="1142.1" cy="1520.8" r="4.05"/><circle cx="1144.1" cy="1494.2" r="4.05"/><circle cx="1145.6" cy="1482.6" r="4.05"/><circle cx="1150.2" cy="1499.9" r="4.05"/><circle cx="1157.6" cy="1488.8" r="4.05"/><circle cx="1165.3" cy="1475.6" r="4.05"/><circle cx="1175.7" cy="1636.5" r="4.05"/><circle cx="1196.9" cy="1615.7" r="4.05"/><circle cx="1222.4" cy="1557.4" r="4.05"/><circle cx="1255.9" cy="1572.9" r="4.05"/>
<line x1="1122.5" y1="1469.5" x2="1122.5" y2="1738.4" class="rd"/>
<path d="M784.1,1457.9V1809H1410.6" class="ax"/>
<path d="M778.1,1467.1H784.1M778.1,1577.9H784.1M778.1,1689H784.1M778.1,1799.3H784.1M793.8,1809V1815M909.9,1809V1815M1026,1809V1815M1142.2,1809V1815M1258.3,1809V1815M1374.4,1809V1815" class="tk"/>
<text x="776.1" y="1472.1" class="yl">0</text>
<text x="776.1" y="1582.9" class="yl">.5</text>
<text x="776.1" y="1694" class="yl">1</text>
<text x="776.1" y="1804.3" class="yl">1.5</text>
<text x="793.8" y="1828" class="xl">−3</text>
<text x="909.9" y="1828" class="xl">−2</text>
<text x="1026" y="1828" class="xl">−1</text>
<text x="1142.2" y="1828" class="xl">0</text>
<text x="1258.3" y="1828" class="xl">1</text>
<text x="1374.4" y="1828" class="xl">2</text>
<text x="1098.5" y="1848.3" class="at" text-anchor="middle">ln(RR)</text>
<text transform="translate(740.5,1630.4) rotate(-90)" class="at" text-anchor="middle">SE of ln(RR)</text>
<text x="718.5" y="1425.1" class="ti" textLength="420.5" lengthAdjust="spacingAndGlyphs">k) Radiotherapy by cancer group</text>
<text x="807.3" y="1731" class="st">n: 33</text>
<text x="807.3" y="1750" class="st">Coefficient: -0.03</text>
<text x="807.3" y="1769" class="st">CI: -0.92, 0.86</text>
<text x="807.3" y="1788" class="st">p: 0.95</text>
<line x1="1504.5" y1="1479.3" x2="2134.9" y2="1479.3" class="gr"/>
<line x1="1504.5" y1="1586.9" x2="2134.9" y2="1586.9" class="gr"/>
<line x1="1504.5" y1="1694.6" x2="2134.9" y2="1694.6" class="gr"/>
<line x1="1504.5" y1="1802.2" x2="2134.9" y2="1802.2" class="gr"/>
<line x1="1513.2" y1="1471.5" x2="1513.2" y2="1810.5" class="gr"/>
<line x1="1636" y1="1471.5" x2="1636" y2="1810.5" class="gr"/>
<line x1="1758.8" y1="1471.5" x2="1758.8" y2="1810.5" class="gr"/>
<line x1="1881.5" y1="1471.5" x2="1881.5" y2="1810.5" class="gr"/>
<line x1="2004.3" y1="1471.5" x2="2004.3" y2="1810.5" class="gr"/>
<line x1="2127.1" y1="1471.5" x2="2127.1" y2="1810.5" class="gr"/>
<polyline points="1697,1771.9 1827.6,1479.3 1959.3,1771.9" class="fn"/>
<circle cx="1657" cy="1505.3" r="4.05"/><circle cx="1777.1" cy="1495.6" r="4.05"/><circle cx="1853.2" cy="1492.1" r="4.05"/><circle cx="1861" cy="1495.6" r="4.05"/><circle cx="1808.5" cy="1529" r="4.05"/><circle cx="1761.9" cy="1536.4" r="4.05"/><circle cx="1881.2" cy="1534.9" r="4.05"/><circle cx="1888.6" cy="1531.8" r="4.05"/><circle cx="1865.3" cy="1555.5" r="4.05"/><circle cx="1813.6" cy="1560.9" r="4.05"/><circle cx="1923.2" cy="1577.2" r="4.05"/><circle cx="1809.7" cy="1581.9" r="4.05"/><circle cx="1803.9" cy="1585" r="4.05"/><circle cx="1832.6" cy="1589.3" r="4.05"/><circle cx="1881.2" cy="1586.9" r="4.05"/><circle cx="1795.7" cy="1597" r="4.05"/><circle cx="1828" cy="1599.8" r="4.05"/><circle cx="1946.1" cy="1605.6" r="4.05"/><circle cx="1772.4" cy="1626.6" r="4.05"/><circle cx="1742.5" cy="1675.1" r="4.05"/><circle cx="1807.4" cy="1681.7" r="4.05"/><circle cx="1870.7" cy="1703.9" r="4.05"/><circle cx="1906.1" cy="1721.4" r="4.05"/><circle cx="1871.5" cy="1745.1" r="4.05"/><circle cx="1756.5" cy="1771.9" r="4.05"/>
<line x1="1827.6" y1="1479.3" x2="1827.6" y2="1771.9" class="rd"/>
<path d="M1503.5,1471.5V1811.5H2134.9" class="ax"/>
<path d="M1497.5,1479.3H1503.5M1497.5,1586.9H1503.5M1497.5,1694.6H1503.5M1497.5,1802.2H1503.5M1513.2,1811.5V1817.5M1636,1811.5V1817.5M1758.8,1811.5V1817.5M1881.5,1811.5V1817.5M2004.3,1811.5V1817.5M2127.1,1811.5V1817.5" class="tk"/>
<text x="1495.5" y="1484.3" class="yl">0</text>
<text x="1495.5" y="1591.9" class="yl">.2</text>
<text x="1495.5" y="1699.6" class="yl">.4</text>
<text x="1495.5" y="1807.2" class="yl">.6</text>
<text x="1513.2" y="1830.5" class="xl">−3</text>
<text x="1636" y="1830.5" class="xl">−2</text>
<text x="1758.8" y="1830.5" class="xl">−1</text>
<text x="1881.5" y="1830.5" class="xl">0</text>
<text x="2004.3" y="1830.5" class="xl">1</text>
<text x="2127.1" y="1830.5" class="xl">2</text>
<text x="1821.4" y="1849.6" class="at" text-anchor="middle">ln(RR)</text>
<text transform="translate(1468.5,1637.8) rotate(-90)" class="at" text-anchor="middle">SE of ln(RR)</text>
<text x="1468.6" y="1423" class="ti" textLength="463.5" lengthAdjust="spacingAndGlyphs">l) Systemic therapy by cancer group</text>
<text x="1524.9" y="1722.2" class="st">n: 25</text>
<text x="1524.9" y="1740.9" class="st">Coefficient:</text>
<text x="1524.9" y="1759.5" class="st">0.39</text>
<text x="1524.9" y="1778.2" class="st">CI: -1.42, 2.20</text>
<text x="1524.9" y="1796.8" class="st">p: 0.67</text>
<line x1="56.9" y1="1938.9" x2="697.5" y2="1938.9" class="gr"/>
<line x1="56.9" y1="2006" x2="697.5" y2="2006" class="gr"/>
<line x1="56.9" y1="2073.9" x2="697.5" y2="2073.9" class="gr"/>
<line x1="56.9" y1="2141.4" x2="697.5" y2="2141.4" class="gr"/>
<line x1="56.9" y1="2209.4" x2="697.5" y2="2209.4" class="gr"/>
<line x1="56.9" y1="2276.5" x2="697.5" y2="2276.5" class="gr"/>
<line x1="64.8" y1="1929.6" x2="64.8" y2="2285.5" class="gr"/>
<line x1="153.8" y1="1929.6" x2="153.8" y2="2285.5" class="gr"/>
<line x1="242.8" y1="1929.6" x2="242.8" y2="2285.5" class="gr"/>
<line x1="331.8" y1="1929.6" x2="331.8" y2="2285.5" class="gr"/>
<line x1="420.8" y1="1929.6" x2="420.8" y2="2285.5" class="gr"/>
<line x1="509.9" y1="1929.6" x2="509.9" y2="2285.5" class="gr"/>
<line x1="598.9" y1="1929.6" x2="598.9" y2="2285.5" class="gr"/>
<line x1="687.9" y1="1929.6" x2="687.9" y2="2285.5" class="gr"/>
<polyline points="243.1,2246.4 401.2,1938.9 560.2,2246.4" class="fn"/>
<circle cx="75.6" cy="1989.8" r="4.05"/><circle cx="207.2" cy="1968.2" r="4.05"/><circle cx="233" cy="2013" r="4.05"/><circle cx="340.7" cy="2043.1" r="4.05"/><circle cx="428.2" cy="2102.1" r="4.05"/><circle cx="473.8" cy="2116.8" r="4.05"/><circle cx="487.7" cy="1967.1" r="4.05"/><circle cx="519.7" cy="1954.3" r="4.05"/><circle cx="530.1" cy="1965.9" r="4.05"/><circle cx="519.7" cy="1989.4" r="4.05"/><circle cx="509.6" cy="2214.8" r="4.05"/><circle cx="545.5" cy="2247.2" r="4.05"/>
<line x1="401.2" y1="1938.9" x2="401.2" y2="2246.4" class="rd"/>
<path d="M55.9,1929.6V2286.5H697.5" class="ax"/>
<path d="M49.9,1938.9H55.9M49.9,2006H55.9M49.9,2073.9H55.9M49.9,2141.4H55.9M49.9,2209.4H55.9M49.9,2276.5H55.9M64.8,2286.5V2292.5M153.8,2286.5V2292.5M242.8,2286.5V2292.5M331.8,2286.5V2292.5M420.8,2286.5V2292.5M509.9,2286.5V2292.5M598.9,2286.5V2292.5M687.9,2286.5V2292.5" class="tk"/>
<text x="47.9" y="1943.9" class="yl">0</text>
<text x="47.9" y="2011" class="yl">.2</text>
<text x="47.9" y="2078.9" class="yl">.4</text>
<text x="47.9" y="2146.4" class="yl">.6</text>
<text x="47.9" y="2214.4" class="yl">.8</text>
<text x="47.9" y="2281.5" class="yl">1</text>
<text x="64.8" y="2305.5" class="xl">−5</text>
<text x="153.8" y="2305.5" class="xl">−4</text>
<text x="242.8" y="2305.5" class="xl">−3</text>
<text x="331.8" y="2305.5" class="xl">−2</text>
<text x="420.8" y="2305.5" class="xl">−1</text>
<text x="509.9" y="2305.5" class="xl">0</text>
<text x="598.9" y="2305.5" class="xl">1</text>
<text x="687.9" y="2305.5" class="xl">2</text>
<text x="377.3" y="2326.2" class="at" text-anchor="middle">ln(RR)</text>
<text transform="translate(19,2106) rotate(-90)" class="at" text-anchor="middle">SE of ln(RR)</text>
<text x="14.7" y="1902.6" class="ti" textLength="358.8" lengthAdjust="spacingAndGlyphs">m) Supportive and palliative</text>
<text x="77.2" y="2210.6" class="st">n: 12</text>
<text x="77.2" y="2229.8" class="st">Coefficient: 1.89</text>
<text x="77.2" y="2249" class="st">CI: -1.86, 5.64</text>
<text x="77.2" y="2268.2" class="st">p: 0.323</text>
<line x1="795.1" y1="2080.2" x2="861.3" y2="2080.2" stroke="#d9d9d9" stroke-width="3.4"/><circle cx="826" cy="2122.4" r="6"/><line x1="796.8" y1="2162" x2="863.2" y2="2162" stroke="#c41f3f" stroke-width="3.9"/><text x="891.6" y="2093.2" class="lg" textLength="197.8" lengthAdjust="spacingAndGlyphs">Pseudo 95% CI</text><text x="891.6" y="2136.5" class="lg" textLength="94.6" lengthAdjust="spacingAndGlyphs">Studies</text><text x="891.6" y="2177.8" class="lg" textLength="123.8" lengthAdjust="spacingAndGlyphs">Estimated</text><text x="1025.8" y="2177.8" class="lg" style="font-family:'Liberation Serif',serif">θ</text><text x="1045.7" y="2182.2" style="font-size:16.7px" textLength="45" lengthAdjust="spacingAndGlyphs">REML</text><text x="1512.8" y="1978.9" class="nt" textLength="361.2" lengthAdjust="spacingAndGlyphs">CI: 95% Confidence Interval</text><text x="1512.8" y="2013.9" class="nt" textLength="418.3" lengthAdjust="spacingAndGlyphs">HDI: Human Development Index</text><text x="1512.8" y="2048.8" class="nt" textLength="163.7" lengthAdjust="spacingAndGlyphs">In: Log scale</text><text x="1512.8" y="2083.8" class="nt" textLength="194.6" lengthAdjust="spacingAndGlyphs">RR: Rate Ratio</text><text x="1512.8" y="2118.7" class="nt" textLength="320.8" lengthAdjust="spacingAndGlyphs">n : number of data points</text><text x="1512.8" y="2153.7" class="nt" textLength="534.7" lengthAdjust="spacingAndGlyphs">Red vertical line represents Overall Effect</text><text x="1512.8" y="2188.7" class="nt" textLength="245.4" lengthAdjust="spacingAndGlyphs">SE: Standard Error</text><text x="1512.8" y="2223.6" class="nt" textLength="549.4" lengthAdjust="spacingAndGlyphs">The circles represent each individual study</text>
</svg>
</body></html>
